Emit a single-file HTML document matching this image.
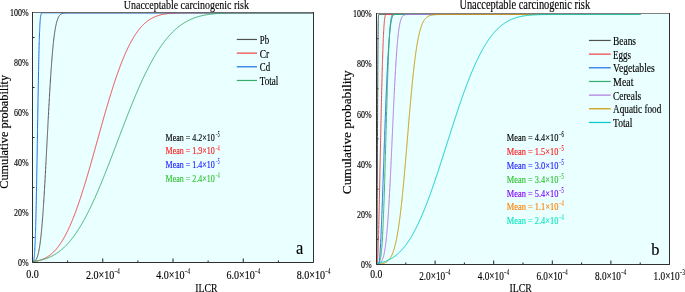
<!DOCTYPE html>
<html><head><meta charset="utf-8"><title>Unacceptable carcinogenic risk</title>
<style>html,body{margin:0;padding:0;background:#fff;width:685px;height:292px;overflow:hidden}svg{display:block;will-change:transform}</style>
</head><body>
<svg width="685" height="292" viewBox="0 0 685 292" font-family="&quot;Liberation Serif&quot;, serif"><rect x="32.50" y="12.50" width="281.00" height="250.00" fill="#EAFFFF"/><path d="M32.50,262.50 V258.50 M67.62,262.50 V260.50 M102.75,262.50 V258.50 M137.88,262.50 V260.50 M173.00,262.50 V258.50 M208.12,262.50 V260.50 M243.25,262.50 V258.50 M278.38,262.50 V260.50 M313.50,262.50 V258.50 M32.50,237.50 H34.50 M32.50,187.50 H34.50 M32.50,137.50 H34.50 M32.50,87.50 H34.50 M32.50,37.50 H34.50" stroke="#222" stroke-width="1" fill="none"/><path d="M32.50,262.50 L32.82,262.11 L33.38,261.93 L33.87,261.71 L34.33,261.45 L34.75,261.13 L35.13,260.78 L35.49,260.39 L35.80,259.97 L36.08,259.54 L36.36,259.06 L36.61,258.58 L36.86,258.04 L37.07,257.53 L37.28,256.98 L37.49,256.38 L37.66,255.83 L37.84,255.25 L38.02,254.62 L38.19,253.96 L38.33,253.39 L38.47,252.79 L38.61,252.17 L38.75,251.51 L38.89,250.82 L39.03,250.09 L39.17,249.33 L39.32,248.54 L39.42,247.92 L39.53,247.28 L39.63,246.61 L39.74,245.93 L39.84,245.22 L39.95,244.49 L40.05,243.74 L40.16,242.97 L40.26,242.17 L40.37,241.35 L40.47,240.50 L40.58,239.63 L40.69,238.74 L40.79,237.82 L40.90,236.87 L40.97,236.23 L41.04,235.57 L41.11,234.91 L41.18,234.23 L41.25,233.54 L41.32,232.84 L41.39,232.13 L41.46,231.40 L41.53,230.67 L41.60,229.92 L41.67,229.16 L41.74,228.39 L41.81,227.61 L41.88,226.81 L41.95,226.01 L42.02,225.19 L42.09,224.36 L42.16,223.52 L42.23,222.66 L42.30,221.80 L42.37,220.92 L42.44,220.04 L42.51,219.14 L42.58,218.22 L42.65,217.30 L42.72,216.37 L42.79,215.42 L42.86,214.46 L42.93,213.50 L43.00,212.52 L43.07,211.53 L43.14,210.52 L43.21,209.51 L43.28,208.49 L43.35,207.45 L43.43,206.40 L43.50,205.35 L43.57,204.28 L43.64,203.20 L43.71,202.12 L43.78,201.02 L43.85,199.91 L43.92,198.79 L43.99,197.66 L44.06,196.53 L44.13,195.38 L44.20,194.22 L44.27,193.06 L44.34,191.88 L44.41,190.70 L44.48,189.51 L44.55,188.30 L44.62,187.09 L44.69,185.88 L44.76,184.65 L44.83,183.42 L44.90,182.18 L44.97,180.93 L45.04,179.67 L45.11,178.41 L45.18,177.14 L45.25,175.86 L45.32,174.58 L45.39,173.29 L45.46,172.00 L45.53,170.70 L45.60,169.39 L45.67,168.08 L45.74,166.76 L45.81,165.44 L45.88,164.12 L45.95,162.79 L45.99,162.12 L46.02,161.45 L46.06,160.78 L46.10,160.11 L46.13,159.44 L46.17,158.77 L46.20,158.10 L46.24,157.43 L46.27,156.75 L46.31,156.08 L46.34,155.40 L46.38,154.73 L46.41,154.05 L46.45,153.38 L46.48,152.70 L46.52,152.02 L46.55,151.34 L46.59,150.66 L46.62,149.98 L46.66,149.30 L46.69,148.62 L46.73,147.94 L46.76,147.26 L46.80,146.58 L46.83,145.90 L46.87,145.22 L46.90,144.53 L46.94,143.85 L46.97,143.17 L47.01,142.49 L47.04,141.80 L47.08,141.12 L47.11,140.44 L47.15,139.76 L47.18,139.07 L47.22,138.39 L47.25,137.71 L47.29,137.03 L47.32,136.34 L47.36,135.66 L47.39,134.98 L47.43,134.30 L47.47,133.62 L47.50,132.94 L47.54,132.26 L47.57,131.58 L47.61,130.90 L47.64,130.22 L47.68,129.54 L47.71,128.86 L47.75,128.19 L47.78,127.51 L47.82,126.83 L47.85,126.16 L47.89,125.48 L47.92,124.81 L47.96,124.14 L47.99,123.47 L48.03,122.79 L48.06,122.12 L48.10,121.45 L48.13,120.78 L48.17,120.12 L48.20,119.45 L48.24,118.78 L48.27,118.12 L48.34,116.79 L48.41,115.47 L48.48,114.15 L48.55,112.84 L48.62,111.53 L48.69,110.22 L48.76,108.93 L48.84,107.64 L48.91,106.35 L48.98,105.07 L49.05,103.80 L49.12,102.53 L49.19,101.27 L49.26,100.02 L49.33,98.77 L49.40,97.53 L49.47,96.30 L49.54,95.08 L49.61,93.86 L49.68,92.66 L49.75,91.46 L49.82,90.26 L49.89,89.08 L49.96,87.91 L50.03,86.74 L50.10,85.59 L50.17,84.44 L50.24,83.30 L50.31,82.17 L50.38,81.05 L50.45,79.94 L50.52,78.84 L50.59,77.75 L50.66,76.67 L50.73,75.60 L50.80,74.54 L50.87,73.49 L50.94,72.45 L51.01,71.42 L51.08,70.40 L51.15,69.39 L51.22,68.39 L51.29,67.40 L51.36,66.42 L51.43,65.45 L51.51,64.50 L51.58,63.55 L51.65,62.62 L51.72,61.69 L51.79,60.78 L51.86,59.88 L51.93,58.99 L52.00,58.11 L52.07,57.24 L52.14,56.38 L52.21,55.53 L52.28,54.70 L52.35,53.87 L52.42,53.06 L52.49,52.26 L52.56,51.46 L52.63,50.68 L52.70,49.91 L52.77,49.15 L52.84,48.40 L52.91,47.66 L52.98,46.94 L53.05,46.22 L53.12,45.52 L53.19,44.82 L53.26,44.14 L53.33,43.46 L53.40,42.80 L53.47,42.15 L53.54,41.51 L53.61,40.87 L53.72,39.94 L53.82,39.04 L53.93,38.16 L54.03,37.30 L54.14,36.46 L54.25,35.64 L54.35,34.85 L54.46,34.07 L54.56,33.32 L54.67,32.59 L54.77,31.88 L54.88,31.19 L54.98,30.51 L55.09,29.86 L55.19,29.23 L55.30,28.62 L55.40,28.02 L55.54,27.25 L55.69,26.52 L55.83,25.82 L55.97,25.14 L56.11,24.50 L56.25,23.88 L56.39,23.29 L56.53,22.72 L56.70,22.05 L56.88,21.42 L57.06,20.83 L57.23,20.27 L57.41,19.74 L57.62,19.15 L57.83,18.61 L58.04,18.10 L58.28,17.56 L58.53,17.07 L58.81,16.57 L59.09,16.11 L59.41,15.66 L59.73,15.27 L60.08,14.89 L60.46,14.53 L60.88,14.21 L61.34,13.92 L61.83,13.67 L62.36,13.47 L62.92,13.30 L63.52,13.17 L64.15,13.07 L64.78,13.00 L65.45,12.95 L66.12,12.91 L66.82,12.89 L67.52,12.88 L68.23,12.87 L68.93,12.86 L69.63,12.86 L70.33,12.85 L71.04,12.85 L71.74,12.85 L72.44,12.85 L73.14,12.85 L73.85,12.85 L74.55,12.85 L75.25,12.85 L75.96,12.85 L76.66,12.85 L77.36,12.85 L78.06,12.85 L78.77,12.85 L79.47,12.85 L80.17,12.85 L80.87,12.85 L81.58,12.85 L82.28,12.85 L82.98,12.85 L83.68,12.85 L84.39,12.85 L85.09,12.85 L85.79,12.85 L86.49,12.85 L87.20,12.85 L87.90,12.85 L88.60,12.85 L89.30,12.85 L90.01,12.85 L90.71,12.85 L91.41,12.85 L92.11,12.85 L92.82,12.85 L93.52,12.85 L94.22,12.85 L94.92,12.85 L95.63,12.85 L96.33,12.85 L97.03,12.85 L97.74,12.85 L98.44,12.85 L99.14,12.85 L99.84,12.85 L100.55,12.85 L101.25,12.85 L101.95,12.85 L102.65,12.85 L103.36,12.85 L104.06,12.85 L104.76,12.85 L105.46,12.85 L106.17,12.85 L106.87,12.85 L107.57,12.85 L108.27,12.85 L108.98,12.85 L109.68,12.85 L110.38,12.85 L111.08,12.85 L111.79,12.85 L112.49,12.85 L113.19,12.85 L113.89,12.85 L114.60,12.85 L115.30,12.85 L116.00,12.85 L116.71,12.85 L117.41,12.85 L118.11,12.85 L118.81,12.85 L119.52,12.85 L120.22,12.85 L120.92,12.85 L121.62,12.85 L122.33,12.85 L123.03,12.85 L123.73,12.85 L124.43,12.85 L125.14,12.85 L125.84,12.85 L126.54,12.85 L127.24,12.85 L127.95,12.85 L128.65,12.85 L129.35,12.85 L130.05,12.85 L130.76,12.85 L131.46,12.85 L132.16,12.85 L132.86,12.85 L133.57,12.85 L134.27,12.85 L134.97,12.85 L135.68,12.85 L136.38,12.85 L137.08,12.85 L137.78,12.85 L138.49,12.85 L139.19,12.85 L139.89,12.85 L140.59,12.85 L141.30,12.85 L142.00,12.85 L142.70,12.85 L143.40,12.85 L144.11,12.85 L144.81,12.85 L145.51,12.85 L146.21,12.85 L146.92,12.85 L147.62,12.85 L148.32,12.85 L149.02,12.85 L149.73,12.85 L150.43,12.85 L151.13,12.85 L151.83,12.85 L152.54,12.85 L153.24,12.85 L153.94,12.85 L154.64,12.85 L155.35,12.85 L156.05,12.85 L156.75,12.85 L157.46,12.85 L158.16,12.85 L158.86,12.85 L159.56,12.85 L160.27,12.85 L160.97,12.85 L161.67,12.85 L162.37,12.85 L163.08,12.85 L163.78,12.85 L164.48,12.85 L165.18,12.85 L165.89,12.85 L166.59,12.85 L167.29,12.85 L167.99,12.85 L168.70,12.85 L169.40,12.85 L170.10,12.85 L170.80,12.85 L171.51,12.85 L172.21,12.85 L172.91,12.85 L173.61,12.85 L174.32,12.85 L175.02,12.85 L175.72,12.85 L176.43,12.85 L177.13,12.85 L177.83,12.85 L178.53,12.85 L179.24,12.85 L179.94,12.85 L180.64,12.85 L181.34,12.85 L182.05,12.85 L182.75,12.85 L183.45,12.85 L184.15,12.85 L184.86,12.85 L185.56,12.85 L186.26,12.85 L186.96,12.85 L187.67,12.85 L188.37,12.85 L189.07,12.85 L189.77,12.85 L190.48,12.85 L191.18,12.85 L191.88,12.85 L192.58,12.85 L193.29,12.85 L193.99,12.85 L194.69,12.85 L195.39,12.85 L196.10,12.85 L196.80,12.85 L197.50,12.85 L198.21,12.85 L198.91,12.85 L199.61,12.85 L200.31,12.85 L201.02,12.85 L201.72,12.85 L202.42,12.85 L203.12,12.85 L203.83,12.85 L204.53,12.85 L205.23,12.85 L205.93,12.85 L206.64,12.85 L207.34,12.85 L208.04,12.85 L208.74,12.85 L209.45,12.85 L210.15,12.85 L210.85,12.85 L211.55,12.85 L212.26,12.85 L212.96,12.85 L213.66,12.85 L214.36,12.85 L215.07,12.85 L215.77,12.85 L216.47,12.85 L217.18,12.85 L217.88,12.85 L218.58,12.85 L219.28,12.85 L219.99,12.85 L220.69,12.85 L221.39,12.85 L222.09,12.85 L222.80,12.85 L223.50,12.85 L224.20,12.85 L224.90,12.85 L225.61,12.85 L226.31,12.85 L227.01,12.85 L227.71,12.85 L228.42,12.85 L229.12,12.85 L229.82,12.85 L230.52,12.85 L231.23,12.85 L231.93,12.85 L232.63,12.85 L233.33,12.85 L234.04,12.85 L234.74,12.85 L235.44,12.85 L236.15,12.85 L236.85,12.85 L237.55,12.85 L238.25,12.85 L238.96,12.85 L239.66,12.85 L240.36,12.85 L241.06,12.85 L241.77,12.85 L242.47,12.85 L243.17,12.85 L243.87,12.85 L244.58,12.85 L245.28,12.85 L245.98,12.85 L246.68,12.85 L247.39,12.85 L248.09,12.85 L248.79,12.85 L249.49,12.85 L250.20,12.85 L250.90,12.85 L251.60,12.85 L252.30,12.85 L253.01,12.85 L253.71,12.85 L254.41,12.85 L255.11,12.85 L255.82,12.85 L256.52,12.85 L257.22,12.85 L257.93,12.85 L258.63,12.85 L259.33,12.85 L260.03,12.85 L260.74,12.85 L261.44,12.85 L262.14,12.85 L262.84,12.85 L263.55,12.85 L264.25,12.85 L264.95,12.85 L265.65,12.85 L266.36,12.85 L267.06,12.85 L267.76,12.85 L268.46,12.85 L269.17,12.85 L269.87,12.85 L270.57,12.85 L271.27,12.85 L271.98,12.85 L272.68,12.85 L273.38,12.85 L274.08,12.85 L274.79,12.85 L275.49,12.85 L276.19,12.85 L276.90,12.85 L277.60,12.85 L278.30,12.85 L279.00,12.85 L279.71,12.85 L280.41,12.85 L281.11,12.85 L281.81,12.85 L282.52,12.85 L283.22,12.85 L283.92,12.85 L284.62,12.85 L285.33,12.85 L286.03,12.85 L286.73,12.85 L287.43,12.85 L288.14,12.85 L288.84,12.85 L289.54,12.85 L290.24,12.85 L290.95,12.85 L291.65,12.85 L292.35,12.85 L293.05,12.85 L293.76,12.85 L294.46,12.85 L295.16,12.85 L295.87,12.85 L296.57,12.85 L297.27,12.85 L297.97,12.85 L298.68,12.85 L299.38,12.85 L300.08,12.85 L300.78,12.85 L301.49,12.85 L302.19,12.85 L302.89,12.85 L303.59,12.85 L304.30,12.85 L305.00,12.85 L305.70,12.85 L306.40,12.85 L307.11,12.85 L307.81,12.85 L308.51,12.85 L309.21,12.85 L309.92,12.85 L310.62,12.85 L311.32,12.85 L312.02,12.85 L312.73,12.85 L313.43,12.85 L313.50,12.85" stroke="#515151" stroke-width="1" fill="none"/><path d="M32.50,262.50 L32.50,261.77 L33.13,261.69 L33.76,261.60 L34.40,261.51 L35.03,261.40 L35.63,261.29 L36.22,261.18 L36.82,261.05 L37.42,260.92 L38.02,260.78 L38.58,260.63 L39.14,260.48 L39.70,260.32 L40.26,260.14 L40.83,259.96 L41.35,259.78 L41.88,259.58 L42.41,259.38 L42.93,259.17 L43.43,258.96 L43.92,258.74 L44.41,258.51 L44.90,258.27 L45.39,258.02 L45.85,257.77 L46.31,257.52 L46.76,257.26 L47.22,256.98 L47.68,256.70 L48.13,256.40 L48.55,256.12 L48.98,255.83 L49.40,255.53 L49.82,255.21 L50.24,254.89 L50.66,254.56 L51.05,254.25 L51.43,253.92 L51.82,253.59 L52.21,253.25 L52.59,252.90 L52.98,252.54 L53.37,252.17 L53.75,251.79 L54.10,251.44 L54.46,251.07 L54.81,250.70 L55.16,250.32 L55.51,249.94 L55.86,249.54 L56.21,249.13 L56.56,248.72 L56.91,248.30 L57.23,247.91 L57.55,247.52 L57.86,247.11 L58.18,246.70 L58.50,246.29 L58.81,245.86 L59.13,245.43 L59.44,244.99 L59.76,244.54 L60.08,244.08 L60.39,243.62 L60.71,243.15 L60.99,242.72 L61.27,242.29 L61.55,241.86 L61.83,241.41 L62.11,240.96 L62.40,240.51 L62.68,240.04 L62.96,239.57 L63.24,239.10 L63.52,238.62 L63.80,238.13 L64.08,237.63 L64.36,237.13 L64.64,236.63 L64.92,236.11 L65.17,235.66 L65.42,235.20 L65.66,234.73 L65.91,234.26 L66.15,233.79 L66.40,233.31 L66.65,232.82 L66.89,232.33 L67.14,231.84 L67.38,231.34 L67.63,230.84 L67.88,230.33 L68.12,229.81 L68.37,229.29 L68.61,228.77 L68.86,228.24 L69.10,227.71 L69.35,227.17 L69.60,226.62 L69.84,226.08 L70.09,225.52 L70.33,224.96 L70.58,224.40 L70.83,223.83 L71.04,223.34 L71.25,222.85 L71.46,222.35 L71.67,221.85 L71.88,221.34 L72.09,220.83 L72.30,220.32 L72.51,219.81 L72.72,219.29 L72.93,218.76 L73.14,218.24 L73.36,217.71 L73.57,217.18 L73.78,216.64 L73.99,216.10 L74.20,215.56 L74.41,215.01 L74.62,214.46 L74.83,213.91 L75.04,213.35 L75.25,212.79 L75.46,212.23 L75.67,211.66 L75.88,211.09 L76.10,210.52 L76.31,209.94 L76.52,209.36 L76.73,208.78 L76.94,208.19 L77.15,207.60 L77.36,207.01 L77.57,206.41 L77.78,205.82 L77.99,205.21 L78.20,204.61 L78.41,204.00 L78.62,203.39 L78.84,202.78 L79.05,202.16 L79.26,201.54 L79.47,200.92 L79.68,200.29 L79.89,199.66 L80.07,199.14 L80.24,198.61 L80.42,198.08 L80.59,197.55 L80.77,197.01 L80.94,196.48 L81.12,195.94 L81.29,195.40 L81.47,194.86 L81.65,194.32 L81.82,193.77 L82.00,193.22 L82.17,192.68 L82.35,192.13 L82.52,191.57 L82.70,191.02 L82.88,190.46 L83.05,189.91 L83.23,189.35 L83.40,188.79 L83.58,188.22 L83.75,187.66 L83.93,187.09 L84.11,186.53 L84.28,185.96 L84.46,185.39 L84.63,184.82 L84.81,184.24 L84.98,183.67 L85.16,183.09 L85.33,182.51 L85.51,181.93 L85.69,181.35 L85.86,180.77 L86.04,180.18 L86.21,179.60 L86.39,179.01 L86.56,178.42 L86.74,177.83 L86.92,177.24 L87.09,176.65 L87.27,176.06 L87.44,175.46 L87.62,174.87 L87.79,174.27 L87.97,173.67 L88.14,173.07 L88.32,172.47 L88.50,171.87 L88.67,171.27 L88.85,170.66 L89.02,170.06 L89.20,169.45 L89.37,168.85 L89.55,168.24 L89.73,167.63 L89.90,167.02 L90.08,166.41 L90.25,165.80 L90.43,165.18 L90.60,164.57 L90.78,163.96 L90.96,163.34 L91.13,162.72 L91.31,162.11 L91.48,161.49 L91.66,160.87 L91.83,160.25 L92.01,159.63 L92.18,159.01 L92.36,158.39 L92.54,157.77 L92.71,157.15 L92.89,156.52 L93.06,155.90 L93.24,155.28 L93.41,154.65 L93.59,154.03 L93.77,153.40 L93.94,152.77 L94.12,152.15 L94.29,151.52 L94.47,150.89 L94.64,150.26 L94.82,149.64 L95.00,149.01 L95.17,148.38 L95.35,147.75 L95.52,147.12 L95.70,146.49 L95.87,145.86 L96.05,145.23 L96.22,144.60 L96.40,143.97 L96.58,143.34 L96.75,142.71 L96.93,142.08 L97.10,141.45 L97.28,140.82 L97.45,140.19 L97.63,139.56 L97.81,138.93 L97.98,138.30 L98.16,137.67 L98.33,137.03 L98.51,136.40 L98.68,135.77 L98.86,135.14 L99.04,134.52 L99.21,133.89 L99.39,133.26 L99.56,132.63 L99.74,132.00 L99.91,131.37 L100.09,130.74 L100.26,130.11 L100.44,129.49 L100.62,128.86 L100.79,128.23 L100.97,127.61 L101.14,126.98 L101.32,126.36 L101.49,125.73 L101.67,125.11 L101.85,124.48 L102.02,123.86 L102.20,123.24 L102.37,122.62 L102.55,122.00 L102.72,121.38 L102.90,120.76 L103.07,120.14 L103.25,119.52 L103.43,118.90 L103.60,118.28 L103.78,117.67 L103.95,117.05 L104.13,116.44 L104.30,115.83 L104.48,115.21 L104.66,114.60 L104.83,113.99 L105.01,113.38 L105.18,112.77 L105.36,112.16 L105.53,111.56 L105.71,110.95 L105.89,110.34 L106.06,109.74 L106.24,109.14 L106.41,108.54 L106.59,107.94 L106.76,107.34 L106.94,106.74 L107.11,106.14 L107.29,105.54 L107.47,104.95 L107.64,104.36 L107.82,103.76 L107.99,103.17 L108.17,102.58 L108.34,101.99 L108.52,101.41 L108.70,100.82 L108.87,100.24 L109.05,99.65 L109.22,99.07 L109.40,98.49 L109.57,97.91 L109.75,97.33 L109.93,96.76 L110.10,96.18 L110.28,95.61 L110.45,95.04 L110.63,94.47 L110.80,93.90 L110.98,93.33 L111.15,92.77 L111.33,92.20 L111.51,91.64 L111.68,91.08 L111.86,90.52 L112.03,89.96 L112.21,89.41 L112.38,88.85 L112.56,88.30 L112.74,87.75 L112.91,87.20 L113.09,86.66 L113.26,86.11 L113.44,85.57 L113.61,85.02 L113.79,84.48 L113.97,83.95 L114.14,83.41 L114.32,82.88 L114.49,82.34 L114.67,81.81 L114.84,81.28 L115.02,80.76 L115.19,80.23 L115.41,79.60 L115.62,78.98 L115.83,78.36 L116.04,77.74 L116.25,77.12 L116.46,76.51 L116.67,75.90 L116.88,75.29 L117.09,74.68 L117.30,74.08 L117.51,73.48 L117.72,72.89 L117.93,72.29 L118.15,71.70 L118.36,71.12 L118.57,70.53 L118.78,69.95 L118.99,69.38 L119.20,68.80 L119.41,68.23 L119.62,67.66 L119.83,67.10 L120.04,66.53 L120.25,65.97 L120.46,65.42 L120.67,64.87 L120.89,64.32 L121.10,63.77 L121.31,63.23 L121.52,62.69 L121.73,62.15 L121.94,61.62 L122.15,61.09 L122.36,60.56 L122.57,60.04 L122.78,59.52 L122.99,59.00 L123.20,58.49 L123.41,57.98 L123.63,57.47 L123.84,56.97 L124.05,56.47 L124.26,55.97 L124.47,55.47 L124.68,54.98 L124.93,54.42 L125.17,53.85 L125.42,53.30 L125.66,52.74 L125.91,52.19 L126.15,51.65 L126.40,51.11 L126.65,50.57 L126.89,50.04 L127.14,49.52 L127.38,48.99 L127.63,48.48 L127.88,47.96 L128.12,47.46 L128.37,46.95 L128.61,46.46 L128.86,45.96 L129.11,45.47 L129.35,44.99 L129.60,44.51 L129.84,44.03 L130.09,43.56 L130.34,43.10 L130.58,42.63 L130.83,42.18 L131.11,41.66 L131.39,41.15 L131.67,40.65 L131.95,40.15 L132.23,39.65 L132.51,39.17 L132.79,38.69 L133.08,38.21 L133.36,37.74 L133.64,37.28 L133.92,36.82 L134.20,36.37 L134.48,35.92 L134.76,35.48 L135.04,35.05 L135.32,34.62 L135.60,34.20 L135.92,33.73 L136.24,33.27 L136.55,32.81 L136.87,32.36 L137.19,31.92 L137.50,31.49 L137.82,31.06 L138.13,30.64 L138.45,30.23 L138.77,29.82 L139.08,29.43 L139.40,29.03 L139.71,28.65 L140.07,28.23 L140.42,27.81 L140.77,27.41 L141.12,27.01 L141.47,26.62 L141.82,26.24 L142.17,25.87 L142.53,25.50 L142.88,25.14 L143.23,24.79 L143.61,24.41 L144.00,24.04 L144.39,23.68 L144.77,23.33 L145.16,22.99 L145.55,22.65 L145.93,22.33 L146.32,22.01 L146.74,21.67 L147.16,21.34 L147.58,21.02 L148.01,20.71 L148.43,20.41 L148.85,20.12 L149.27,19.84 L149.73,19.54 L150.18,19.25 L150.64,18.97 L151.10,18.70 L151.55,18.44 L152.01,18.19 L152.50,17.93 L152.99,17.68 L153.49,17.44 L153.98,17.21 L154.47,16.99 L154.96,16.78 L155.49,16.56 L156.01,16.35 L156.54,16.15 L157.07,15.96 L157.60,15.78 L158.12,15.60 L158.68,15.43 L159.25,15.26 L159.81,15.10 L160.37,14.95 L160.93,14.81 L161.53,14.67 L162.13,14.54 L162.72,14.41 L163.32,14.29 L163.92,14.18 L164.52,14.08 L165.15,13.98 L165.78,13.88 L166.41,13.79 L167.05,13.71 L167.68,13.63 L168.31,13.56 L168.98,13.49 L169.65,13.43 L170.31,13.37 L170.98,13.32 L171.65,13.27 L172.31,13.23 L172.98,13.19 L173.65,13.15 L174.32,13.12 L175.02,13.09 L175.72,13.06 L176.43,13.03 L177.13,13.01 L177.83,12.99 L178.53,12.97 L179.24,12.95 L179.94,12.94 L180.64,12.93 L181.34,12.92 L182.05,12.91 L182.75,12.90 L183.45,12.89 L184.15,12.89 L184.86,12.88 L185.56,12.87 L186.26,12.87 L186.96,12.87 L187.67,12.86 L188.37,12.86 L189.07,12.86 L189.77,12.86 L190.48,12.86 L191.18,12.86 L191.88,12.85 L192.58,12.85 L193.29,12.85 L193.99,12.85 L194.69,12.85 L195.39,12.85 L196.10,12.85 L196.80,12.85 L197.50,12.85 L198.21,12.85 L198.91,12.85 L199.61,12.85 L200.31,12.85 L201.02,12.85 L201.72,12.85 L202.42,12.85 L203.12,12.85 L203.83,12.85 L204.53,12.85 L205.23,12.85 L205.93,12.85 L206.64,12.85 L207.34,12.85 L208.04,12.85 L208.74,12.85 L209.45,12.85 L210.15,12.85 L210.85,12.85 L211.55,12.85 L212.26,12.85 L212.96,12.85 L213.66,12.85 L214.36,12.85 L215.07,12.85 L215.77,12.85 L216.47,12.85 L217.18,12.85 L217.88,12.85 L218.58,12.85 L219.28,12.85 L219.99,12.85 L220.69,12.85 L221.39,12.85 L222.09,12.85 L222.80,12.85 L223.50,12.85 L224.20,12.85 L224.90,12.85 L225.61,12.85 L226.31,12.85 L227.01,12.85 L227.71,12.85 L228.42,12.85 L229.12,12.85 L229.82,12.85 L230.52,12.85 L231.23,12.85 L231.93,12.85 L232.63,12.85 L233.33,12.85 L234.04,12.85 L234.74,12.85 L235.44,12.85 L236.15,12.85 L236.85,12.85 L237.55,12.85 L238.25,12.85 L238.96,12.85 L239.66,12.85 L240.36,12.85 L241.06,12.85 L241.77,12.85 L242.47,12.85 L243.17,12.85 L243.87,12.85 L244.58,12.85 L245.28,12.85 L245.98,12.85 L246.68,12.85 L247.39,12.85 L248.09,12.85 L248.79,12.85 L249.49,12.85 L250.20,12.85 L250.90,12.85 L251.60,12.85 L252.30,12.85 L253.01,12.85 L253.71,12.85 L254.41,12.85 L255.11,12.85 L255.82,12.85 L256.52,12.85 L257.22,12.85 L257.93,12.85 L258.63,12.85 L259.33,12.85 L260.03,12.85 L260.74,12.85 L261.44,12.85 L262.14,12.85 L262.84,12.85 L263.55,12.85 L264.25,12.85 L264.95,12.85 L265.65,12.85 L266.36,12.85 L267.06,12.85 L267.76,12.85 L268.46,12.85 L269.17,12.85 L269.87,12.85 L270.57,12.85 L271.27,12.85 L271.98,12.85 L272.68,12.85 L273.38,12.85 L274.08,12.85 L274.79,12.85 L275.49,12.85 L276.19,12.85 L276.90,12.85 L277.60,12.85 L278.30,12.85 L279.00,12.85 L279.71,12.85 L280.41,12.85 L281.11,12.85 L281.81,12.85 L282.52,12.85 L283.22,12.85 L283.92,12.85 L284.62,12.85 L285.33,12.85 L286.03,12.85 L286.73,12.85 L287.43,12.85 L288.14,12.85 L288.84,12.85 L289.54,12.85 L290.24,12.85 L290.95,12.85 L291.65,12.85 L292.35,12.85 L293.05,12.85 L293.76,12.85 L294.46,12.85 L295.16,12.85 L295.87,12.85 L296.57,12.85 L297.27,12.85 L297.97,12.85 L298.68,12.85 L299.38,12.85 L300.08,12.85 L300.78,12.85 L301.49,12.85 L302.19,12.85 L302.89,12.85 L303.59,12.85 L304.30,12.85 L305.00,12.85 L305.70,12.85 L306.40,12.85 L307.11,12.85 L307.81,12.85 L308.51,12.85 L309.21,12.85 L309.92,12.85 L310.62,12.85 L311.32,12.85 L312.02,12.85 L312.73,12.85 L313.43,12.85 L313.50,12.85" stroke="#F14040" stroke-width="1" fill="none"/><path d="M32.50,262.50 L33.06,262.36 L33.38,261.91 L33.59,261.32 L33.73,260.75 L33.87,260.02 L33.98,259.35 L34.08,258.57 L34.19,257.66 L34.26,256.98 L34.33,256.23 L34.40,255.42 L34.47,254.54 L34.54,253.59 L34.61,252.57 L34.68,251.47 L34.75,250.29 L34.82,249.02 L34.89,247.68 L34.92,246.97 L34.96,246.24 L34.99,245.49 L35.03,244.72 L35.06,243.92 L35.10,243.10 L35.13,242.26 L35.17,241.39 L35.20,240.50 L35.24,239.59 L35.28,238.65 L35.31,237.69 L35.35,236.70 L35.38,235.69 L35.42,234.65 L35.45,233.59 L35.49,232.50 L35.52,231.39 L35.56,230.25 L35.59,229.09 L35.63,227.89 L35.66,226.68 L35.70,225.44 L35.73,224.17 L35.77,222.88 L35.80,221.56 L35.84,220.21 L35.87,218.84 L35.91,217.44 L35.94,216.02 L35.98,214.57 L36.01,213.10 L36.05,211.60 L36.08,210.07 L36.12,208.52 L36.15,206.95 L36.19,205.35 L36.22,203.72 L36.26,202.08 L36.29,200.40 L36.33,198.71 L36.36,196.99 L36.40,195.25 L36.43,193.48 L36.47,191.69 L36.50,189.88 L36.54,188.05 L36.58,186.20 L36.61,184.33 L36.65,182.44 L36.68,180.52 L36.72,178.59 L36.75,176.64 L36.79,174.68 L36.82,172.69 L36.86,170.69 L36.89,168.68 L36.93,166.64 L36.96,164.60 L37.00,162.54 L37.03,160.46 L37.07,158.38 L37.10,156.28 L37.14,154.17 L37.17,152.05 L37.21,149.93 L37.24,147.79 L37.28,145.65 L37.31,143.50 L37.35,141.35 L37.38,139.19 L37.42,137.02 L37.45,134.86 L37.49,132.69 L37.52,130.52 L37.56,128.35 L37.59,126.18 L37.63,124.01 L37.66,121.85 L37.70,119.69 L37.73,117.53 L37.77,115.38 L37.80,113.24 L37.84,111.11 L37.87,108.98 L37.91,106.86 L37.95,104.76 L37.98,102.66 L38.02,100.58 L38.05,98.51 L38.09,96.46 L38.12,94.42 L38.16,92.39 L38.19,90.39 L38.23,88.40 L38.26,86.43 L38.30,84.48 L38.33,82.55 L38.37,80.65 L38.40,78.76 L38.44,76.90 L38.47,75.06 L38.51,73.24 L38.54,71.45 L38.58,69.69 L38.61,67.95 L38.65,66.24 L38.68,64.55 L38.72,62.90 L38.75,61.27 L38.79,59.67 L38.82,58.10 L38.86,56.55 L38.89,55.04 L38.93,53.56 L38.96,52.11 L39.00,50.69 L39.03,49.30 L39.07,47.94 L39.10,46.62 L39.14,45.32 L39.17,44.06 L39.21,42.83 L39.24,41.62 L39.28,40.46 L39.32,39.32 L39.35,38.21 L39.39,37.14 L39.42,36.09 L39.46,35.08 L39.49,34.09 L39.53,33.14 L39.56,32.22 L39.60,31.33 L39.63,30.46 L39.67,29.63 L39.70,28.82 L39.74,28.04 L39.77,27.29 L39.81,26.57 L39.84,25.88 L39.88,25.21 L39.95,23.95 L40.02,22.78 L40.09,21.72 L40.16,20.74 L40.23,19.85 L40.30,19.04 L40.37,18.31 L40.44,17.64 L40.54,16.77 L40.65,16.04 L40.76,15.42 L40.90,14.75 L41.07,14.13 L41.28,13.62 L41.60,13.18 L42.06,12.94 L42.69,12.86 L43.39,12.85 L44.09,12.85 L44.80,12.85 L45.50,12.85 L46.20,12.85 L46.90,12.85 L47.61,12.85 L48.31,12.85 L49.01,12.85 L49.71,12.85 L50.42,12.85 L51.12,12.85 L51.82,12.85 L52.52,12.85 L53.23,12.85 L53.93,12.85 L54.63,12.85 L55.33,12.85 L56.04,12.85 L56.74,12.85 L57.44,12.85 L58.14,12.85 L58.85,12.85 L59.55,12.85 L60.25,12.85 L60.95,12.85 L61.66,12.85 L62.36,12.85 L63.06,12.85 L63.77,12.85 L64.47,12.85 L65.17,12.85 L65.87,12.85 L66.58,12.85 L67.28,12.85 L67.98,12.85 L68.68,12.85 L69.39,12.85 L70.09,12.85 L70.79,12.85 L71.49,12.85 L72.20,12.85 L72.90,12.85 L73.60,12.85 L74.30,12.85 L75.01,12.85 L75.71,12.85 L76.41,12.85 L77.11,12.85 L77.82,12.85 L78.52,12.85 L79.22,12.85 L79.92,12.85 L80.63,12.85 L81.33,12.85 L82.03,12.85 L82.74,12.85 L83.44,12.85 L84.14,12.85 L84.84,12.85 L85.55,12.85 L86.25,12.85 L86.95,12.85 L87.65,12.85 L88.36,12.85 L89.06,12.85 L89.76,12.85 L90.46,12.85 L91.17,12.85 L91.87,12.85 L92.57,12.85 L93.27,12.85 L93.98,12.85 L94.68,12.85 L95.38,12.85 L96.08,12.85 L96.79,12.85 L97.49,12.85 L98.19,12.85 L98.89,12.85 L99.60,12.85 L100.30,12.85 L101.00,12.85 L101.70,12.85 L102.41,12.85 L103.11,12.85 L103.81,12.85 L104.52,12.85 L105.22,12.85 L105.92,12.85 L106.62,12.85 L107.33,12.85 L108.03,12.85 L108.73,12.85 L109.43,12.85 L110.14,12.85 L110.84,12.85 L111.54,12.85 L112.24,12.85 L112.95,12.85 L113.65,12.85 L114.35,12.85 L115.05,12.85 L115.76,12.85 L116.46,12.85 L117.16,12.85 L117.86,12.85 L118.57,12.85 L119.27,12.85 L119.97,12.85 L120.67,12.85 L121.38,12.85 L122.08,12.85 L122.78,12.85 L123.49,12.85 L124.19,12.85 L124.89,12.85 L125.59,12.85 L126.30,12.85 L127.00,12.85 L127.70,12.85 L128.40,12.85 L129.11,12.85 L129.81,12.85 L130.51,12.85 L131.21,12.85 L131.92,12.85 L132.62,12.85 L133.32,12.85 L134.02,12.85 L134.73,12.85 L135.43,12.85 L136.13,12.85 L136.83,12.85 L137.54,12.85 L138.24,12.85 L138.94,12.85 L139.64,12.85 L140.35,12.85 L141.05,12.85 L141.75,12.85 L142.45,12.85 L143.16,12.85 L143.86,12.85 L144.56,12.85 L145.27,12.85 L145.97,12.85 L146.67,12.85 L147.37,12.85 L148.08,12.85 L148.78,12.85 L149.48,12.85 L150.18,12.85 L150.89,12.85 L151.59,12.85 L152.29,12.85 L152.99,12.85 L153.70,12.85 L154.40,12.85 L155.10,12.85 L155.80,12.85 L156.51,12.85 L157.21,12.85 L157.91,12.85 L158.61,12.85 L159.32,12.85 L160.02,12.85 L160.72,12.85 L161.42,12.85 L162.13,12.85 L162.83,12.85 L163.53,12.85 L164.24,12.85 L164.94,12.85 L165.64,12.85 L166.34,12.85 L167.05,12.85 L167.75,12.85 L168.45,12.85 L169.15,12.85 L169.86,12.85 L170.56,12.85 L171.26,12.85 L171.96,12.85 L172.67,12.85 L173.37,12.85 L174.07,12.85 L174.77,12.85 L175.48,12.85 L176.18,12.85 L176.88,12.85 L177.58,12.85 L178.29,12.85 L178.99,12.85 L179.69,12.85 L180.39,12.85 L181.10,12.85 L181.80,12.85 L182.50,12.85 L183.21,12.85 L183.91,12.85 L184.61,12.85 L185.31,12.85 L186.02,12.85 L186.72,12.85 L187.42,12.85 L188.12,12.85 L188.83,12.85 L189.53,12.85 L190.23,12.85 L190.93,12.85 L191.64,12.85 L192.34,12.85 L193.04,12.85 L193.74,12.85 L194.45,12.85 L195.15,12.85 L195.85,12.85 L196.55,12.85 L197.26,12.85 L197.96,12.85 L198.66,12.85 L199.36,12.85 L200.07,12.85 L200.77,12.85 L201.47,12.85 L202.17,12.85 L202.88,12.85 L203.58,12.85 L204.28,12.85 L204.99,12.85 L205.69,12.85 L206.39,12.85 L207.09,12.85 L207.80,12.85 L208.50,12.85 L209.20,12.85 L209.90,12.85 L210.61,12.85 L211.31,12.85 L212.01,12.85 L212.71,12.85 L213.42,12.85 L214.12,12.85 L214.82,12.85 L215.52,12.85 L216.23,12.85 L216.93,12.85 L217.63,12.85 L218.33,12.85 L219.04,12.85 L219.74,12.85 L220.44,12.85 L221.14,12.85 L221.85,12.85 L222.55,12.85 L223.25,12.85 L223.96,12.85 L224.66,12.85 L225.36,12.85 L226.06,12.85 L226.77,12.85 L227.47,12.85 L228.17,12.85 L228.87,12.85 L229.58,12.85 L230.28,12.85 L230.98,12.85 L231.68,12.85 L232.39,12.85 L233.09,12.85 L233.79,12.85 L234.49,12.85 L235.20,12.85 L235.90,12.85 L236.60,12.85 L237.30,12.85 L238.01,12.85 L238.71,12.85 L239.41,12.85 L240.11,12.85 L240.82,12.85 L241.52,12.85 L242.22,12.85 L242.93,12.85 L243.63,12.85 L244.33,12.85 L245.03,12.85 L245.74,12.85 L246.44,12.85 L247.14,12.85 L247.84,12.85 L248.55,12.85 L249.25,12.85 L249.95,12.85 L250.65,12.85 L251.36,12.85 L252.06,12.85 L252.76,12.85 L253.46,12.85 L254.17,12.85 L254.87,12.85 L255.57,12.85 L256.27,12.85 L256.98,12.85 L257.68,12.85 L258.38,12.85 L259.08,12.85 L259.79,12.85 L260.49,12.85 L261.19,12.85 L261.89,12.85 L262.60,12.85 L263.30,12.85 L264.00,12.85 L264.71,12.85 L265.41,12.85 L266.11,12.85 L266.81,12.85 L267.52,12.85 L268.22,12.85 L268.92,12.85 L269.62,12.85 L270.33,12.85 L271.03,12.85 L271.73,12.85 L272.43,12.85 L273.14,12.85 L273.84,12.85 L274.54,12.85 L275.24,12.85 L275.95,12.85 L276.65,12.85 L277.35,12.85 L278.05,12.85 L278.76,12.85 L279.46,12.85 L280.16,12.85 L280.86,12.85 L281.57,12.85 L282.27,12.85 L282.97,12.85 L283.68,12.85 L284.38,12.85 L285.08,12.85 L285.78,12.85 L286.49,12.85 L287.19,12.85 L287.89,12.85 L288.59,12.85 L289.30,12.85 L290.00,12.85 L290.70,12.85 L291.40,12.85 L292.11,12.85 L292.81,12.85 L293.51,12.85 L294.21,12.85 L294.92,12.85 L295.62,12.85 L296.32,12.85 L297.02,12.85 L297.73,12.85 L298.43,12.85 L299.13,12.85 L299.83,12.85 L300.54,12.85 L301.24,12.85 L301.94,12.85 L302.65,12.85 L303.35,12.85 L304.05,12.85 L304.75,12.85 L305.46,12.85 L306.16,12.85 L306.86,12.85 L307.56,12.85 L308.27,12.85 L308.97,12.85 L309.67,12.85 L310.37,12.85 L311.08,12.85 L311.78,12.85 L312.48,12.85 L313.18,12.85 L313.50,12.85" stroke="#1A6FDF" stroke-width="1" fill="none"/><path d="M32.50,262.50 L32.50,261.55 L33.13,261.47 L33.76,261.39 L34.40,261.31 L35.03,261.22 L35.66,261.13 L36.29,261.03 L36.93,260.92 L37.52,260.81 L38.12,260.70 L38.72,260.59 L39.32,260.46 L39.91,260.33 L40.51,260.20 L41.11,260.06 L41.67,259.92 L42.23,259.77 L42.79,259.62 L43.35,259.46 L43.92,259.29 L44.48,259.12 L45.04,258.94 L45.57,258.77 L46.10,258.58 L46.62,258.40 L47.15,258.20 L47.68,258.00 L48.20,257.79 L48.73,257.57 L49.22,257.37 L49.71,257.15 L50.21,256.93 L50.70,256.70 L51.19,256.46 L51.68,256.22 L52.17,255.97 L52.66,255.71 L53.12,255.47 L53.58,255.22 L54.03,254.96 L54.49,254.69 L54.95,254.42 L55.40,254.14 L55.86,253.85 L56.32,253.56 L56.77,253.26 L57.20,252.98 L57.62,252.69 L58.04,252.39 L58.46,252.09 L58.88,251.78 L59.30,251.46 L59.73,251.14 L60.15,250.81 L60.57,250.47 L60.95,250.16 L61.34,249.84 L61.73,249.52 L62.11,249.18 L62.50,248.85 L62.89,248.50 L63.27,248.16 L63.66,247.80 L64.05,247.44 L64.43,247.07 L64.82,246.70 L65.21,246.32 L65.56,245.97 L65.91,245.62 L66.26,245.26 L66.61,244.89 L66.96,244.52 L67.31,244.14 L67.66,243.76 L68.02,243.38 L68.37,242.98 L68.72,242.59 L69.07,242.19 L69.42,241.78 L69.77,241.36 L70.12,240.95 L70.47,240.52 L70.79,240.14 L71.11,239.75 L71.42,239.35 L71.74,238.95 L72.06,238.55 L72.37,238.14 L72.69,237.73 L73.00,237.31 L73.32,236.89 L73.64,236.46 L73.95,236.03 L74.27,235.60 L74.59,235.16 L74.90,234.71 L75.22,234.27 L75.53,233.81 L75.85,233.36 L76.17,232.89 L76.48,232.43 L76.80,231.96 L77.08,231.53 L77.36,231.11 L77.64,230.68 L77.92,230.25 L78.20,229.81 L78.48,229.37 L78.77,228.93 L79.05,228.48 L79.33,228.03 L79.61,227.58 L79.89,227.12 L80.17,226.66 L80.45,226.19 L80.73,225.73 L81.01,225.25 L81.29,224.78 L81.58,224.30 L81.86,223.82 L82.14,223.33 L82.42,222.85 L82.70,222.35 L82.98,221.86 L83.26,221.36 L83.54,220.86 L83.82,220.35 L84.11,219.84 L84.39,219.33 L84.67,218.81 L84.91,218.36 L85.16,217.90 L85.40,217.44 L85.65,216.98 L85.90,216.52 L86.14,216.05 L86.39,215.58 L86.63,215.11 L86.88,214.63 L87.13,214.16 L87.37,213.68 L87.62,213.20 L87.86,212.71 L88.11,212.22 L88.36,211.74 L88.60,211.24 L88.85,210.75 L89.09,210.25 L89.34,209.76 L89.59,209.25 L89.83,208.75 L90.08,208.24 L90.32,207.74 L90.57,207.23 L90.81,206.71 L91.06,206.20 L91.31,205.68 L91.55,205.16 L91.80,204.64 L92.04,204.12 L92.29,203.59 L92.54,203.06 L92.78,202.53 L93.03,202.00 L93.27,201.46 L93.52,200.92 L93.77,200.39 L94.01,199.84 L94.26,199.30 L94.50,198.76 L94.75,198.21 L95.00,197.66 L95.24,197.11 L95.49,196.55 L95.73,196.00 L95.98,195.44 L96.22,194.88 L96.47,194.32 L96.72,193.75 L96.96,193.19 L97.21,192.62 L97.45,192.05 L97.67,191.56 L97.88,191.07 L98.09,190.58 L98.30,190.09 L98.51,189.59 L98.72,189.10 L98.93,188.60 L99.14,188.10 L99.35,187.60 L99.56,187.10 L99.77,186.60 L99.98,186.09 L100.19,185.59 L100.41,185.08 L100.62,184.58 L100.83,184.07 L101.04,183.56 L101.25,183.05 L101.46,182.54 L101.67,182.02 L101.88,181.51 L102.09,180.99 L102.30,180.48 L102.51,179.96 L102.72,179.44 L102.93,178.92 L103.15,178.40 L103.36,177.88 L103.57,177.36 L103.78,176.84 L103.99,176.31 L104.20,175.79 L104.41,175.26 L104.62,174.73 L104.83,174.20 L105.04,173.68 L105.25,173.15 L105.46,172.61 L105.67,172.08 L105.89,171.55 L106.10,171.02 L106.31,170.48 L106.52,169.95 L106.73,169.41 L106.94,168.88 L107.15,168.34 L107.36,167.80 L107.57,167.26 L107.78,166.72 L107.99,166.18 L108.20,165.64 L108.41,165.10 L108.63,164.56 L108.84,164.02 L109.05,163.48 L109.26,162.93 L109.47,162.39 L109.68,161.84 L109.89,161.30 L110.10,160.75 L110.31,160.20 L110.52,159.66 L110.73,159.11 L110.94,158.56 L111.15,158.01 L111.37,157.46 L111.58,156.91 L111.79,156.36 L112.00,155.81 L112.21,155.26 L112.42,154.71 L112.63,154.16 L112.84,153.61 L113.05,153.06 L113.26,152.51 L113.47,151.95 L113.68,151.40 L113.89,150.85 L114.11,150.29 L114.32,149.74 L114.53,149.19 L114.74,148.63 L114.95,148.08 L115.16,147.52 L115.37,146.97 L115.58,146.41 L115.79,145.86 L116.00,145.31 L116.21,144.75 L116.42,144.20 L116.63,143.64 L116.85,143.08 L117.06,142.53 L117.27,141.97 L117.48,141.42 L117.69,140.86 L117.90,140.31 L118.11,139.75 L118.32,139.20 L118.53,138.64 L118.74,138.09 L118.95,137.53 L119.16,136.98 L119.37,136.43 L119.59,135.87 L119.80,135.32 L120.01,134.76 L120.22,134.21 L120.43,133.66 L120.64,133.10 L120.85,132.55 L121.06,132.00 L121.27,131.44 L121.48,130.89 L121.69,130.34 L121.90,129.79 L122.12,129.24 L122.33,128.69 L122.54,128.14 L122.75,127.59 L122.96,127.04 L123.17,126.49 L123.38,125.94 L123.59,125.39 L123.80,124.84 L124.01,124.30 L124.22,123.75 L124.43,123.20 L124.64,122.66 L124.86,122.11 L125.07,121.57 L125.28,121.02 L125.49,120.48 L125.70,119.94 L125.91,119.39 L126.12,118.85 L126.33,118.31 L126.54,117.77 L126.75,117.23 L126.96,116.69 L127.17,116.15 L127.38,115.61 L127.60,115.08 L127.81,114.54 L128.02,114.01 L128.23,113.47 L128.44,112.94 L128.65,112.40 L128.86,111.87 L129.07,111.34 L129.28,110.81 L129.49,110.28 L129.70,109.75 L129.91,109.22 L130.12,108.69 L130.34,108.17 L130.55,107.64 L130.76,107.12 L130.97,106.59 L131.18,106.07 L131.39,105.55 L131.60,105.03 L131.81,104.51 L132.02,103.99 L132.23,103.47 L132.44,102.95 L132.65,102.44 L132.86,101.92 L133.08,101.41 L133.29,100.90 L133.50,100.38 L133.71,99.87 L133.92,99.36 L134.13,98.86 L134.34,98.35 L134.55,97.84 L134.76,97.34 L134.97,96.83 L135.18,96.33 L135.39,95.83 L135.60,95.33 L135.82,94.83 L136.03,94.33 L136.24,93.84 L136.45,93.34 L136.66,92.85 L136.87,92.35 L137.08,91.86 L137.29,91.37 L137.54,90.80 L137.78,90.23 L138.03,89.67 L138.27,89.10 L138.52,88.54 L138.77,87.98 L139.01,87.42 L139.26,86.86 L139.50,86.30 L139.75,85.75 L140.00,85.20 L140.24,84.65 L140.49,84.10 L140.73,83.55 L140.98,83.01 L141.23,82.47 L141.47,81.93 L141.72,81.39 L141.96,80.85 L142.21,80.32 L142.45,79.79 L142.70,79.26 L142.95,78.73 L143.19,78.20 L143.44,77.68 L143.68,77.16 L143.93,76.64 L144.18,76.12 L144.42,75.60 L144.67,75.09 L144.91,74.58 L145.16,74.07 L145.41,73.56 L145.65,73.06 L145.90,72.56 L146.14,72.06 L146.39,71.56 L146.64,71.06 L146.88,70.57 L147.13,70.08 L147.37,69.59 L147.62,69.10 L147.86,68.62 L148.11,68.13 L148.36,67.65 L148.60,67.18 L148.85,66.70 L149.09,66.23 L149.34,65.76 L149.59,65.29 L149.83,64.82 L150.08,64.36 L150.32,63.90 L150.57,63.44 L150.82,62.98 L151.06,62.53 L151.34,62.01 L151.62,61.50 L151.90,60.99 L152.19,60.48 L152.47,59.98 L152.75,59.48 L153.03,58.98 L153.31,58.48 L153.59,57.99 L153.87,57.50 L154.15,57.02 L154.43,56.54 L154.72,56.06 L155.00,55.58 L155.28,55.11 L155.56,54.64 L155.84,54.17 L156.12,53.71 L156.40,53.25 L156.68,52.79 L156.96,52.34 L157.24,51.89 L157.53,51.44 L157.81,51.00 L158.09,50.56 L158.37,50.12 L158.65,49.69 L158.93,49.26 L159.21,48.83 L159.49,48.41 L159.77,47.98 L160.09,47.51 L160.41,47.05 L160.72,46.59 L161.04,46.13 L161.35,45.67 L161.67,45.22 L161.99,44.78 L162.30,44.33 L162.62,43.90 L162.94,43.46 L163.25,43.03 L163.57,42.61 L163.88,42.18 L164.20,41.77 L164.52,41.35 L164.83,40.94 L165.15,40.54 L165.46,40.13 L165.78,39.74 L166.10,39.34 L166.41,38.95 L166.73,38.57 L167.08,38.14 L167.43,37.72 L167.78,37.31 L168.13,36.89 L168.49,36.49 L168.84,36.09 L169.19,35.69 L169.54,35.30 L169.89,34.91 L170.24,34.53 L170.59,34.15 L170.94,33.78 L171.30,33.41 L171.65,33.05 L172.00,32.69 L172.35,32.33 L172.70,31.98 L173.09,31.60 L173.47,31.23 L173.86,30.86 L174.25,30.50 L174.63,30.14 L175.02,29.78 L175.41,29.44 L175.79,29.09 L176.18,28.75 L176.57,28.42 L176.95,28.09 L177.34,27.77 L177.72,27.45 L178.15,27.11 L178.57,26.78 L178.99,26.45 L179.41,26.12 L179.83,25.81 L180.25,25.49 L180.68,25.19 L181.10,24.89 L181.52,24.59 L181.94,24.30 L182.36,24.02 L182.78,23.74 L183.24,23.44 L183.70,23.15 L184.15,22.86 L184.61,22.59 L185.07,22.31 L185.52,22.05 L185.98,21.78 L186.44,21.53 L186.89,21.28 L187.35,21.03 L187.84,20.78 L188.33,20.53 L188.83,20.28 L189.32,20.04 L189.81,19.81 L190.30,19.58 L190.79,19.36 L191.28,19.15 L191.78,18.94 L192.30,18.72 L192.83,18.50 L193.36,18.30 L193.88,18.10 L194.41,17.90 L194.94,17.71 L195.47,17.53 L195.99,17.35 L196.55,17.17 L197.12,16.99 L197.68,16.82 L198.24,16.65 L198.80,16.49 L199.36,16.33 L199.93,16.18 L200.49,16.04 L201.05,15.90 L201.65,15.76 L202.25,15.62 L202.84,15.49 L203.44,15.36 L204.04,15.24 L204.63,15.12 L205.23,15.01 L205.83,14.90 L206.43,14.79 L207.06,14.69 L207.69,14.59 L208.32,14.49 L208.95,14.40 L209.59,14.31 L210.22,14.23 L210.85,14.15 L211.48,14.08 L212.12,14.00 L212.75,13.94 L213.42,13.87 L214.08,13.80 L214.75,13.74 L215.42,13.68 L216.09,13.63 L216.75,13.58 L217.42,13.53 L218.09,13.48 L218.76,13.44 L219.42,13.40 L220.09,13.36 L220.76,13.32 L221.43,13.29 L222.13,13.25 L222.83,13.22 L223.53,13.19 L224.24,13.17 L224.94,13.14 L225.64,13.12 L226.34,13.09 L227.05,13.07 L227.75,13.05 L228.45,13.04 L229.15,13.02 L229.86,13.01 L230.56,12.99 L231.26,12.98 L231.96,12.97 L232.67,12.96 L233.37,12.95 L234.07,12.94 L234.78,12.93 L235.48,12.92 L236.18,12.91 L236.88,12.91 L237.59,12.90 L238.29,12.90 L238.99,12.89 L239.69,12.89 L240.40,12.88 L241.10,12.88 L241.80,12.88 L242.50,12.87 L243.21,12.87 L243.91,12.87 L244.61,12.87 L245.31,12.86 L246.02,12.86 L246.72,12.86 L247.42,12.86 L248.12,12.86 L248.83,12.86 L249.53,12.86 L250.23,12.86 L250.93,12.85 L251.64,12.85 L252.34,12.85 L253.04,12.85 L253.74,12.85 L254.45,12.85 L255.15,12.85 L255.85,12.85 L256.56,12.85 L257.26,12.85 L257.96,12.85 L258.66,12.85 L259.37,12.85 L260.07,12.85 L260.77,12.85 L261.47,12.85 L262.18,12.85 L262.88,12.85 L263.58,12.85 L264.28,12.85 L264.99,12.85 L265.69,12.85 L266.39,12.85 L267.09,12.85 L267.80,12.85 L268.50,12.85 L269.20,12.85 L269.90,12.85 L270.61,12.85 L271.31,12.85 L272.01,12.85 L272.71,12.85 L273.42,12.85 L274.12,12.85 L274.82,12.85 L275.53,12.85 L276.23,12.85 L276.93,12.85 L277.63,12.85 L278.34,12.85 L279.04,12.85 L279.74,12.85 L280.44,12.85 L281.15,12.85 L281.85,12.85 L282.55,12.85 L283.25,12.85 L283.96,12.85 L284.66,12.85 L285.36,12.85 L286.06,12.85 L286.77,12.85 L287.47,12.85 L288.17,12.85 L288.87,12.85 L289.58,12.85 L290.28,12.85 L290.98,12.85 L291.68,12.85 L292.39,12.85 L293.09,12.85 L293.79,12.85 L294.49,12.85 L295.20,12.85 L295.90,12.85 L296.60,12.85 L297.31,12.85 L298.01,12.85 L298.71,12.85 L299.41,12.85 L300.12,12.85 L300.82,12.85 L301.52,12.85 L302.22,12.85 L302.93,12.85 L303.63,12.85 L304.33,12.85 L305.03,12.85 L305.74,12.85 L306.44,12.85 L307.14,12.85 L307.84,12.85 L308.55,12.85 L309.25,12.85 L309.95,12.85 L310.65,12.85 L311.36,12.85 L312.06,12.85 L312.76,12.85 L313.46,12.85 L313.50,12.85" stroke="#37AD6B" stroke-width="1" fill="none"/><path d="M32.00,12.50 H314.00" stroke="#6a6a6a" stroke-width="1" fill="none"/><path d="M32.50,12.00 V262.50 H313.50 V12.00" stroke="#303030" stroke-width="1" fill="none"/><rect x="376.50" y="13.50" width="293.00" height="251.00" fill="#EAFFFF"/><path d="M376.50,264.50 V260.50 M405.80,264.50 V262.50 M435.10,264.50 V260.50 M464.40,264.50 V262.50 M493.70,264.50 V260.50 M523.00,264.50 V262.50 M552.30,264.50 V260.50 M581.60,264.50 V262.50 M610.90,264.50 V260.50 M640.20,264.50 V262.50 M669.50,264.50 V260.50 M376.50,239.40 H378.50 M376.50,189.20 H378.50 M376.50,139.00 H378.50 M376.50,88.80 H378.50 M376.50,38.60 H378.50" stroke="#222" stroke-width="1" fill="none"/><path d="M376.50,264.50 L376.63,263.86 L376.70,262.53 L376.73,261.47 L376.76,260.11 L376.80,258.41 L376.83,256.36 L376.86,253.92 L376.90,251.08 L376.93,247.83 L376.96,244.14 L376.99,240.02 L377.03,235.46 L377.06,230.47 L377.09,225.06 L377.13,219.23 L377.16,213.01 L377.19,206.42 L377.23,199.49 L377.26,192.26 L377.29,184.75 L377.32,177.01 L377.36,169.08 L377.39,161.02 L377.42,152.86 L377.46,144.66 L377.49,136.47 L377.52,128.34 L377.55,120.31 L377.59,112.43 L377.62,104.75 L377.65,97.30 L377.69,90.12 L377.72,83.24 L377.75,76.70 L377.79,70.50 L377.82,64.67 L377.85,59.22 L377.88,54.16 L377.92,49.49 L377.95,45.20 L377.98,41.29 L378.02,37.75 L378.05,34.56 L378.08,31.71 L378.12,29.18 L378.15,26.95 L378.18,24.99 L378.21,23.29 L378.25,21.82 L378.28,20.55 L378.31,19.47 L378.35,18.56 L378.38,17.79 L378.45,16.62 L378.51,15.83 L378.61,15.13 L378.81,14.61 L379.40,14.50 L380.13,14.50 L380.85,14.50 L381.58,14.50 L382.30,14.50 L383.03,14.50 L383.75,14.50 L384.48,14.50 L385.20,14.50 L385.93,14.50 L386.65,14.50 L387.38,14.50 L388.10,14.50 L388.83,14.50 L389.55,14.50 L390.28,14.50 L391.01,14.50 L391.73,14.50 L392.46,14.50 L393.18,14.50 L393.91,14.50 L394.63,14.50 L395.36,14.50 L396.08,14.50 L396.81,14.50 L397.53,14.50 L398.26,14.50 L398.98,14.50 L399.71,14.50 L400.43,14.50 L401.16,14.50 L401.88,14.50 L402.61,14.50 L403.33,14.50 L404.06,14.50 L404.79,14.50 L405.51,14.50 L406.24,14.50 L406.96,14.50 L407.69,14.50 L408.41,14.50 L409.14,14.50 L409.86,14.50 L410.59,14.50 L411.31,14.50 L412.04,14.50 L412.76,14.50 L413.49,14.50 L414.21,14.50 L414.94,14.50 L415.66,14.50 L416.39,14.50 L417.11,14.50 L417.84,14.50 L418.57,14.50 L419.29,14.50 L420.02,14.50 L420.74,14.50 L421.47,14.50 L422.19,14.50 L422.92,14.50 L423.64,14.50 L424.37,14.50 L425.09,14.50 L425.82,14.50 L426.54,14.50 L427.27,14.50 L427.99,14.50 L428.72,14.50 L429.44,14.50 L430.17,14.50 L430.89,14.50 L431.62,14.50 L432.35,14.50 L433.07,14.50 L433.80,14.50 L434.52,14.50 L435.25,14.50 L435.97,14.50 L436.70,14.50 L437.42,14.50 L438.15,14.50 L438.87,14.50 L439.60,14.50 L440.32,14.50 L441.05,14.50 L441.77,14.50 L442.50,14.50 L443.22,14.50 L443.95,14.50 L444.67,14.50 L445.40,14.50 L446.13,14.50 L446.85,14.50 L447.58,14.50 L448.30,14.50 L449.03,14.50 L449.75,14.50 L450.48,14.50 L451.20,14.50 L451.93,14.50 L452.65,14.50 L453.38,14.50 L454.10,14.50 L454.83,14.50 L455.55,14.50 L456.28,14.50 L457.00,14.50 L457.73,14.50 L458.46,14.50 L459.18,14.50 L459.91,14.50 L460.63,14.50 L461.36,14.50 L462.08,14.50 L462.81,14.50 L463.53,14.50 L464.26,14.50 L464.98,14.50 L465.71,14.50 L466.43,14.50 L467.16,14.50 L467.88,14.50 L468.61,14.50 L469.33,14.50 L470.06,14.50 L470.78,14.50 L471.51,14.50 L472.24,14.50 L472.96,14.50 L473.69,14.50 L474.41,14.50 L475.14,14.50 L475.86,14.50 L476.59,14.50 L477.31,14.50 L478.04,14.50 L478.76,14.50 L479.49,14.50 L480.21,14.50 L480.94,14.50 L481.66,14.50 L482.39,14.50 L483.11,14.50 L483.84,14.50 L484.56,14.50 L485.29,14.50 L486.02,14.50 L486.74,14.50 L487.47,14.50 L488.19,14.50 L488.92,14.50 L489.64,14.50 L490.37,14.50 L491.09,14.50 L491.82,14.50 L492.54,14.50 L493.27,14.50 L493.99,14.50 L494.72,14.50 L495.44,14.50 L496.17,14.50 L496.89,14.50 L497.62,14.50 L498.34,14.50 L499.07,14.50 L499.80,14.50 L500.52,14.50 L501.25,14.50 L501.97,14.50 L502.70,14.50 L503.42,14.50 L504.15,14.50 L504.87,14.50 L505.60,14.50 L506.32,14.50 L507.05,14.50 L507.77,14.50 L508.50,14.50 L509.22,14.50 L509.95,14.50 L510.67,14.50 L511.40,14.50 L512.12,14.50 L512.85,14.50 L513.58,14.50 L514.30,14.50 L515.03,14.50 L515.75,14.50 L516.48,14.50 L517.20,14.50 L517.93,14.50 L518.65,14.50 L519.38,14.50 L520.10,14.50 L520.83,14.50 L521.55,14.50 L522.28,14.50 L523.00,14.50 L523.73,14.50 L524.45,14.50 L525.18,14.50 L525.90,14.50 L526.63,14.50 L527.36,14.50 L528.08,14.50 L528.81,14.50 L529.53,14.50 L530.26,14.50 L530.98,14.50 L531.71,14.50 L532.43,14.50 L533.16,14.50 L533.88,14.50 L534.61,14.50 L535.33,14.50 L536.06,14.50 L536.78,14.50 L537.51,14.50 L538.23,14.50 L538.96,14.50 L539.68,14.50 L540.41,14.50 L541.14,14.50 L541.86,14.50 L542.59,14.50 L543.31,14.50 L544.04,14.50 L544.76,14.50 L545.49,14.50 L546.21,14.50 L546.94,14.50 L547.66,14.50 L548.39,14.50 L549.11,14.50 L549.84,14.50 L550.56,14.50 L551.29,14.50 L552.01,14.50 L552.74,14.50 L553.46,14.50 L554.19,14.50 L554.92,14.50 L555.64,14.50 L556.37,14.50 L557.09,14.50 L557.82,14.50 L558.54,14.50 L559.27,14.50 L559.99,14.50 L560.72,14.50 L561.44,14.50 L562.17,14.50 L562.89,14.50 L563.62,14.50 L564.34,14.50 L565.07,14.50 L565.79,14.50 L566.52,14.50 L567.24,14.50 L567.97,14.50 L568.70,14.50 L569.42,14.50 L570.15,14.50 L570.87,14.50 L571.60,14.50 L572.32,14.50 L573.05,14.50 L573.77,14.50 L574.50,14.50 L575.22,14.50 L575.95,14.50 L576.67,14.50 L577.40,14.50 L578.12,14.50 L578.85,14.50 L579.57,14.50 L580.30,14.50 L581.02,14.50 L581.75,14.50 L582.48,14.50 L583.20,14.50 L583.93,14.50 L584.65,14.50 L585.38,14.50 L586.10,14.50 L586.83,14.50 L587.55,14.50 L588.28,14.50 L589.00,14.50 L589.73,14.50 L590.45,14.50 L591.18,14.50 L591.90,14.50 L592.63,14.50 L593.35,14.50 L594.08,14.50 L594.80,14.50 L595.53,14.50 L596.26,14.50 L596.98,14.50 L597.71,14.50 L598.43,14.50 L599.16,14.50 L599.88,14.50 L600.61,14.50 L601.33,14.50 L602.06,14.50 L602.78,14.50 L603.51,14.50 L604.23,14.50 L604.96,14.50 L605.68,14.50 L606.41,14.50 L607.13,14.50 L607.86,14.50 L608.59,14.50 L609.31,14.50 L610.04,14.50 L610.76,14.50 L611.49,14.50 L612.21,14.50 L612.94,14.50 L613.66,14.50 L614.39,14.50 L615.11,14.50 L615.84,14.50 L616.56,14.50 L617.29,14.50 L618.01,14.50 L618.74,14.50 L619.46,14.50 L620.19,14.50 L620.91,14.50 L621.64,14.50 L622.37,14.50 L623.09,14.50 L623.82,14.50 L624.54,14.50 L625.27,14.50 L625.99,14.50 L626.72,14.50 L627.44,14.50 L628.17,14.50 L628.89,14.50 L629.62,14.50 L630.34,14.50 L631.07,14.50 L631.79,14.50 L632.52,14.50 L633.24,14.50 L633.97,14.50 L634.69,14.50 L635.42,14.50 L636.15,14.50 L636.87,14.50 L637.60,14.50 L638.32,14.50 L639.05,14.50 L639.77,14.50 L640.20,14.50" stroke="#515151" stroke-width="1" fill="none"/><path d="M376.50,264.50 L376.99,264.26 L377.16,263.69 L377.29,262.87 L377.39,262.01 L377.46,261.31 L377.52,260.50 L377.59,259.58 L377.65,258.55 L377.72,257.41 L377.79,256.17 L377.85,254.81 L377.88,254.09 L377.92,253.34 L377.95,252.57 L377.98,251.77 L378.02,250.94 L378.05,250.09 L378.08,249.22 L378.12,248.32 L378.15,247.39 L378.18,246.44 L378.21,245.47 L378.25,244.47 L378.28,243.45 L378.31,242.41 L378.35,241.34 L378.38,240.26 L378.41,239.15 L378.45,238.02 L378.48,236.87 L378.51,235.70 L378.54,234.51 L378.58,233.30 L378.61,232.08 L378.64,230.83 L378.68,229.57 L378.71,228.29 L378.74,227.00 L378.77,225.68 L378.81,224.36 L378.84,223.01 L378.87,221.65 L378.91,220.28 L378.94,218.89 L378.97,217.49 L379.01,216.08 L379.04,214.65 L379.07,213.22 L379.10,211.76 L379.14,210.30 L379.17,208.83 L379.20,207.35 L379.24,205.86 L379.27,204.35 L379.30,202.84 L379.34,201.32 L379.37,199.79 L379.40,198.25 L379.43,196.71 L379.47,195.16 L379.50,193.60 L379.53,192.04 L379.57,190.47 L379.60,188.89 L379.63,187.31 L379.66,185.72 L379.70,184.13 L379.73,182.53 L379.76,180.94 L379.80,179.33 L379.83,177.73 L379.86,176.12 L379.90,174.51 L379.93,172.90 L379.96,171.28 L379.99,169.66 L380.03,168.05 L380.06,166.43 L380.09,164.81 L380.13,163.19 L380.16,161.57 L380.19,159.96 L380.23,158.34 L380.26,156.72 L380.29,155.11 L380.32,153.49 L380.36,151.88 L380.39,150.27 L380.42,148.67 L380.46,147.06 L380.49,145.46 L380.52,143.86 L380.55,142.27 L380.59,140.67 L380.62,139.09 L380.65,137.50 L380.69,135.92 L380.72,134.35 L380.75,132.78 L380.79,131.22 L380.82,129.66 L380.85,128.10 L380.88,126.56 L380.92,125.01 L380.95,123.48 L380.98,121.95 L381.02,120.43 L381.05,118.91 L381.08,117.40 L381.12,115.90 L381.15,114.40 L381.18,112.92 L381.21,111.44 L381.25,109.97 L381.28,108.50 L381.31,107.05 L381.35,105.60 L381.38,104.16 L381.41,102.73 L381.44,101.31 L381.48,99.90 L381.51,98.50 L381.54,97.10 L381.58,95.72 L381.61,94.34 L381.64,92.98 L381.68,91.62 L381.71,90.28 L381.74,88.95 L381.77,87.62 L381.81,86.31 L381.84,85.00 L381.87,83.71 L381.91,82.43 L381.94,81.16 L381.97,79.89 L382.01,78.65 L382.04,77.41 L382.07,76.18 L382.10,74.96 L382.14,73.76 L382.17,72.57 L382.20,71.39 L382.24,70.22 L382.27,69.06 L382.30,67.91 L382.34,66.78 L382.37,65.66 L382.40,64.55 L382.43,63.45 L382.47,62.36 L382.50,61.29 L382.53,60.23 L382.57,59.18 L382.60,58.15 L382.63,57.12 L382.66,56.11 L382.70,55.12 L382.73,54.13 L382.76,53.16 L382.80,52.20 L382.83,51.25 L382.86,50.32 L382.90,49.40 L382.93,48.49 L382.96,47.59 L382.99,46.71 L383.03,45.84 L383.06,44.99 L383.09,44.14 L383.13,43.31 L383.16,42.50 L383.19,41.69 L383.23,40.90 L383.26,40.12 L383.29,39.36 L383.32,38.61 L383.36,37.87 L383.39,37.14 L383.42,36.43 L383.46,35.73 L383.49,35.05 L383.52,34.37 L383.59,33.06 L383.65,31.81 L383.72,30.60 L383.79,29.45 L383.85,28.35 L383.92,27.29 L383.98,26.29 L384.05,25.34 L384.12,24.43 L384.18,23.57 L384.25,22.76 L384.31,22.00 L384.38,21.28 L384.44,20.61 L384.54,19.68 L384.64,18.85 L384.74,18.11 L384.84,17.45 L384.97,16.71 L385.10,16.10 L385.27,15.52 L385.50,14.97 L385.86,14.58 L386.49,14.50 L387.21,14.50 L387.94,14.50 L388.66,14.50 L389.39,14.50 L390.12,14.50 L390.84,14.50 L391.57,14.50 L392.29,14.50 L393.02,14.50 L393.74,14.50 L394.47,14.50 L395.19,14.50 L395.92,14.50 L396.64,14.50 L397.37,14.50 L398.09,14.50 L398.82,14.50 L399.54,14.50 L400.27,14.50 L400.99,14.50 L401.72,14.50 L402.44,14.50 L403.17,14.50 L403.90,14.50 L404.62,14.50 L405.35,14.50 L406.07,14.50 L406.80,14.50 L407.52,14.50 L408.25,14.50 L408.97,14.50 L409.70,14.50 L410.42,14.50 L411.15,14.50 L411.87,14.50 L412.60,14.50 L413.32,14.50 L414.05,14.50 L414.77,14.50 L415.50,14.50 L416.22,14.50 L416.95,14.50 L417.68,14.50 L418.40,14.50 L419.13,14.50 L419.85,14.50 L420.58,14.50 L421.30,14.50 L422.03,14.50 L422.75,14.50 L423.48,14.50 L424.20,14.50 L424.93,14.50 L425.65,14.50 L426.38,14.50 L427.10,14.50 L427.83,14.50 L428.55,14.50 L429.28,14.50 L430.00,14.50 L430.73,14.50 L431.46,14.50 L432.18,14.50 L432.91,14.50 L433.63,14.50 L434.36,14.50 L435.08,14.50 L435.81,14.50 L436.53,14.50 L437.26,14.50 L437.98,14.50 L438.71,14.50 L439.43,14.50 L440.16,14.50 L440.88,14.50 L441.61,14.50 L442.33,14.50 L443.06,14.50 L443.78,14.50 L444.51,14.50 L445.24,14.50 L445.96,14.50 L446.69,14.50 L447.41,14.50 L448.14,14.50 L448.86,14.50 L449.59,14.50 L450.31,14.50 L451.04,14.50 L451.76,14.50 L452.49,14.50 L453.21,14.50 L453.94,14.50 L454.66,14.50 L455.39,14.50 L456.11,14.50 L456.84,14.50 L457.56,14.50 L458.29,14.50 L459.02,14.50 L459.74,14.50 L460.47,14.50 L461.19,14.50 L461.92,14.50 L462.64,14.50 L463.37,14.50 L464.09,14.50 L464.82,14.50 L465.54,14.50 L466.27,14.50 L466.99,14.50 L467.72,14.50 L468.44,14.50 L469.17,14.50 L469.89,14.50 L470.62,14.50 L471.34,14.50 L472.07,14.50 L472.80,14.50 L473.52,14.50 L474.25,14.50 L474.97,14.50 L475.70,14.50 L476.42,14.50 L477.15,14.50 L477.87,14.50 L478.60,14.50 L479.32,14.50 L480.05,14.50 L480.77,14.50 L481.50,14.50 L482.22,14.50 L482.95,14.50 L483.67,14.50 L484.40,14.50 L485.13,14.50 L485.85,14.50 L486.58,14.50 L487.30,14.50 L488.03,14.50 L488.75,14.50 L489.48,14.50 L490.20,14.50 L490.93,14.50 L491.65,14.50 L492.38,14.50 L493.10,14.50 L493.83,14.50 L494.55,14.50 L495.28,14.50 L496.00,14.50 L496.73,14.50 L497.45,14.50 L498.18,14.50 L498.91,14.50 L499.63,14.50 L500.36,14.50 L501.08,14.50 L501.81,14.50 L502.53,14.50 L503.26,14.50 L503.98,14.50 L504.71,14.50 L505.43,14.50 L506.16,14.50 L506.88,14.50 L507.61,14.50 L508.33,14.50 L509.06,14.50 L509.78,14.50 L510.51,14.50 L511.23,14.50 L511.96,14.50 L512.69,14.50 L513.41,14.50 L514.14,14.50 L514.86,14.50 L515.59,14.50 L516.31,14.50 L517.04,14.50 L517.76,14.50 L518.49,14.50 L519.21,14.50 L519.94,14.50 L520.66,14.50 L521.39,14.50 L522.11,14.50 L522.84,14.50 L523.56,14.50 L524.29,14.50 L525.01,14.50 L525.74,14.50 L526.47,14.50 L527.19,14.50 L527.92,14.50 L528.64,14.50 L529.37,14.50 L530.09,14.50 L530.82,14.50 L531.54,14.50 L532.27,14.50 L532.99,14.50 L533.72,14.50 L534.44,14.50 L535.17,14.50 L535.89,14.50 L536.62,14.50 L537.34,14.50 L538.07,14.50 L538.79,14.50 L539.52,14.50 L540.25,14.50 L540.97,14.50 L541.70,14.50 L542.42,14.50 L543.15,14.50 L543.87,14.50 L544.60,14.50 L545.32,14.50 L546.05,14.50 L546.77,14.50 L547.50,14.50 L548.22,14.50 L548.95,14.50 L549.67,14.50 L550.40,14.50 L551.12,14.50 L551.85,14.50 L552.57,14.50 L553.30,14.50 L554.03,14.50 L554.75,14.50 L555.48,14.50 L556.20,14.50 L556.93,14.50 L557.65,14.50 L558.38,14.50 L559.10,14.50 L559.83,14.50 L560.55,14.50 L561.28,14.50 L562.00,14.50 L562.73,14.50 L563.45,14.50 L564.18,14.50 L564.90,14.50 L565.63,14.50 L566.35,14.50 L567.08,14.50 L567.81,14.50 L568.53,14.50 L569.26,14.50 L569.98,14.50 L570.71,14.50 L571.43,14.50 L572.16,14.50 L572.88,14.50 L573.61,14.50 L574.33,14.50 L575.06,14.50 L575.78,14.50 L576.51,14.50 L577.23,14.50 L577.96,14.50 L578.68,14.50 L579.41,14.50 L580.13,14.50 L580.86,14.50 L581.59,14.50 L582.31,14.50 L583.04,14.50 L583.76,14.50 L584.49,14.50 L585.21,14.50 L585.94,14.50 L586.66,14.50 L587.39,14.50 L588.11,14.50 L588.84,14.50 L589.56,14.50 L590.29,14.50 L591.01,14.50 L591.74,14.50 L592.46,14.50 L593.19,14.50 L593.91,14.50 L594.64,14.50 L595.37,14.50 L596.09,14.50 L596.82,14.50 L597.54,14.50 L598.27,14.50 L598.99,14.50 L599.72,14.50 L600.44,14.50 L601.17,14.50 L601.89,14.50 L602.62,14.50 L603.34,14.50 L604.07,14.50 L604.79,14.50 L605.52,14.50 L606.24,14.50 L606.97,14.50 L607.69,14.50 L608.42,14.50 L609.15,14.50 L609.87,14.50 L610.60,14.50 L611.32,14.50 L612.05,14.50 L612.77,14.50 L613.50,14.50 L614.22,14.50 L614.95,14.50 L615.67,14.50 L616.40,14.50 L617.12,14.50 L617.85,14.50 L618.57,14.50 L619.30,14.50 L620.02,14.50 L620.75,14.50 L621.47,14.50 L622.20,14.50 L622.93,14.50 L623.65,14.50 L624.38,14.50 L625.10,14.50 L625.83,14.50 L626.55,14.50 L627.28,14.50 L628.00,14.50 L628.73,14.50 L629.45,14.50 L630.18,14.50 L630.90,14.50 L631.63,14.50 L632.35,14.50 L633.08,14.50 L633.80,14.50 L634.53,14.50 L635.26,14.50 L635.98,14.50 L636.71,14.50 L637.43,14.50 L638.16,14.50 L638.88,14.50 L639.61,14.50 L640.20,14.50" stroke="#F14040" stroke-width="1" fill="none"/><path d="M376.50,264.50 L377.23,264.50 L377.92,264.49 L378.38,264.25 L378.64,263.75 L378.84,263.12 L378.97,262.55 L379.10,261.84 L379.20,261.22 L379.30,260.51 L379.40,259.73 L379.50,258.86 L379.60,257.90 L379.66,257.21 L379.73,256.49 L379.80,255.73 L379.86,254.92 L379.93,254.08 L379.99,253.21 L380.06,252.29 L380.13,251.34 L380.19,250.35 L380.26,249.33 L380.32,248.27 L380.39,247.17 L380.46,246.04 L380.52,244.87 L380.59,243.68 L380.65,242.45 L380.72,241.18 L380.79,239.89 L380.85,238.56 L380.88,237.89 L380.92,237.21 L380.95,236.52 L380.98,235.82 L381.02,235.12 L381.05,234.41 L381.08,233.69 L381.12,232.97 L381.15,232.24 L381.18,231.50 L381.21,230.76 L381.25,230.01 L381.28,229.25 L381.31,228.49 L381.35,227.72 L381.38,226.94 L381.41,226.16 L381.44,225.37 L381.48,224.58 L381.51,223.78 L381.54,222.98 L381.58,222.17 L381.61,221.36 L381.64,220.54 L381.68,219.71 L381.71,218.88 L381.74,218.05 L381.77,217.21 L381.81,216.36 L381.84,215.51 L381.87,214.66 L381.91,213.80 L381.94,212.94 L381.97,212.07 L382.01,211.20 L382.04,210.33 L382.07,209.45 L382.10,208.57 L382.14,207.68 L382.17,206.79 L382.20,205.90 L382.24,205.00 L382.27,204.10 L382.30,203.19 L382.34,202.29 L382.37,201.38 L382.40,200.46 L382.43,199.55 L382.47,198.63 L382.50,197.71 L382.53,196.78 L382.57,195.86 L382.60,194.93 L382.63,193.99 L382.66,193.06 L382.70,192.12 L382.73,191.19 L382.76,190.25 L382.80,189.30 L382.83,188.36 L382.86,187.41 L382.90,186.47 L382.93,185.52 L382.96,184.57 L382.99,183.61 L383.03,182.66 L383.06,181.70 L383.09,180.75 L383.13,179.79 L383.16,178.83 L383.19,177.87 L383.23,176.91 L383.26,175.95 L383.29,174.99 L383.32,174.03 L383.36,173.06 L383.39,172.10 L383.42,171.14 L383.46,170.17 L383.49,169.21 L383.52,168.24 L383.55,167.28 L383.59,166.31 L383.62,165.35 L383.65,164.38 L383.69,163.42 L383.72,162.45 L383.75,161.49 L383.79,160.53 L383.82,159.56 L383.85,158.60 L383.88,157.64 L383.92,156.67 L383.95,155.71 L383.98,154.75 L384.02,153.79 L384.05,152.83 L384.08,151.87 L384.12,150.92 L384.15,149.96 L384.18,149.01 L384.21,148.05 L384.25,147.10 L384.28,146.15 L384.31,145.20 L384.35,144.25 L384.38,143.30 L384.41,142.36 L384.44,141.41 L384.48,140.47 L384.51,139.53 L384.54,138.59 L384.58,137.65 L384.61,136.71 L384.64,135.78 L384.68,134.85 L384.71,133.92 L384.74,132.99 L384.77,132.06 L384.81,131.14 L384.84,130.22 L384.87,129.30 L384.91,128.38 L384.94,127.47 L384.97,126.55 L385.01,125.64 L385.04,124.73 L385.07,123.83 L385.10,122.92 L385.14,122.02 L385.17,121.13 L385.20,120.23 L385.24,119.34 L385.27,118.45 L385.30,117.56 L385.34,116.68 L385.37,115.79 L385.40,114.91 L385.43,114.04 L385.47,113.17 L385.50,112.30 L385.53,111.43 L385.57,110.56 L385.60,109.70 L385.63,108.85 L385.66,107.99 L385.70,107.14 L385.73,106.29 L385.76,105.45 L385.80,104.60 L385.83,103.77 L385.86,102.93 L385.90,102.10 L385.93,101.27 L385.96,100.44 L385.99,99.62 L386.03,98.80 L386.06,97.99 L386.09,97.18 L386.13,96.37 L386.16,95.57 L386.19,94.77 L386.23,93.97 L386.26,93.18 L386.29,92.39 L386.32,91.60 L386.36,90.82 L386.39,90.04 L386.42,89.27 L386.46,88.50 L386.49,87.73 L386.52,86.97 L386.55,86.21 L386.59,85.45 L386.62,84.70 L386.65,83.95 L386.69,83.21 L386.72,82.47 L386.75,81.74 L386.79,81.00 L386.82,80.28 L386.85,79.55 L386.88,78.83 L386.92,78.12 L386.95,77.41 L386.98,76.70 L387.02,76.00 L387.05,75.30 L387.08,74.60 L387.12,73.91 L387.15,73.23 L387.18,72.55 L387.21,71.87 L387.25,71.19 L387.28,70.52 L387.35,69.20 L387.41,67.89 L387.48,66.60 L387.54,65.32 L387.61,64.06 L387.68,62.82 L387.74,61.60 L387.81,60.39 L387.87,59.20 L387.94,58.03 L388.01,56.88 L388.07,55.74 L388.14,54.62 L388.20,53.52 L388.27,52.44 L388.34,51.37 L388.40,50.32 L388.47,49.29 L388.53,48.28 L388.60,47.29 L388.66,46.31 L388.73,45.35 L388.80,44.40 L388.86,43.48 L388.93,42.57 L388.99,41.68 L389.06,40.81 L389.13,39.95 L389.19,39.11 L389.26,38.29 L389.32,37.48 L389.39,36.70 L389.46,35.92 L389.52,35.17 L389.59,34.43 L389.65,33.71 L389.72,33.01 L389.79,32.32 L389.85,31.65 L389.92,30.99 L389.98,30.35 L390.08,29.42 L390.18,28.53 L390.28,27.67 L390.38,26.85 L390.48,26.06 L390.58,25.30 L390.68,24.58 L390.77,23.88 L390.87,23.23 L390.97,22.60 L391.10,21.81 L391.24,21.07 L391.37,20.38 L391.50,19.75 L391.63,19.16 L391.80,18.49 L391.96,17.89 L392.13,17.35 L392.32,16.79 L392.55,16.24 L392.82,15.73 L393.12,15.30 L393.48,14.93 L393.94,14.66 L394.53,14.53 L395.23,14.50 L395.95,14.50 L396.68,14.50 L397.40,14.50 L398.13,14.50 L398.85,14.50 L399.58,14.50 L400.30,14.50 L401.03,14.50 L401.75,14.50 L402.48,14.50 L403.20,14.50 L403.93,14.50 L404.65,14.50 L405.38,14.50 L406.10,14.50 L406.83,14.50 L407.55,14.50 L408.28,14.50 L409.01,14.50 L409.73,14.50 L410.46,14.50 L411.18,14.50 L411.91,14.50 L412.63,14.50 L413.36,14.50 L414.08,14.50 L414.81,14.50 L415.53,14.50 L416.26,14.50 L416.98,14.50 L417.71,14.50 L418.43,14.50 L419.16,14.50 L419.88,14.50 L420.61,14.50 L421.33,14.50 L422.06,14.50 L422.79,14.50 L423.51,14.50 L424.24,14.50 L424.96,14.50 L425.69,14.50 L426.41,14.50 L427.14,14.50 L427.86,14.50 L428.59,14.50 L429.31,14.50 L430.04,14.50 L430.76,14.50 L431.49,14.50 L432.21,14.50 L432.94,14.50 L433.66,14.50 L434.39,14.50 L435.11,14.50 L435.84,14.50 L436.57,14.50 L437.29,14.50 L438.02,14.50 L438.74,14.50 L439.47,14.50 L440.19,14.50 L440.92,14.50 L441.64,14.50 L442.37,14.50 L443.09,14.50 L443.82,14.50 L444.54,14.50 L445.27,14.50 L445.99,14.50 L446.72,14.50 L447.44,14.50 L448.17,14.50 L448.89,14.50 L449.62,14.50 L450.35,14.50 L451.07,14.50 L451.80,14.50 L452.52,14.50 L453.25,14.50 L453.97,14.50 L454.70,14.50 L455.42,14.50 L456.15,14.50 L456.87,14.50 L457.60,14.50 L458.32,14.50 L459.05,14.50 L459.77,14.50 L460.50,14.50 L461.22,14.50 L461.95,14.50 L462.67,14.50 L463.40,14.50 L464.13,14.50 L464.85,14.50 L465.58,14.50 L466.30,14.50 L467.03,14.50 L467.75,14.50 L468.48,14.50 L469.20,14.50 L469.93,14.50 L470.65,14.50 L471.38,14.50 L472.10,14.50 L472.83,14.50 L473.55,14.50 L474.28,14.50 L475.00,14.50 L475.73,14.50 L476.45,14.50 L477.18,14.50 L477.91,14.50 L478.63,14.50 L479.36,14.50 L480.08,14.50 L480.81,14.50 L481.53,14.50 L482.26,14.50 L482.98,14.50 L483.71,14.50 L484.43,14.50 L485.16,14.50 L485.88,14.50 L486.61,14.50 L487.33,14.50 L488.06,14.50 L488.78,14.50 L489.51,14.50 L490.23,14.50 L490.96,14.50 L491.69,14.50 L492.41,14.50 L493.14,14.50 L493.86,14.50 L494.59,14.50 L495.31,14.50 L496.04,14.50 L496.76,14.50 L497.49,14.50 L498.21,14.50 L498.94,14.50 L499.66,14.50 L500.39,14.50 L501.11,14.50 L501.84,14.50 L502.56,14.50 L503.29,14.50 L504.01,14.50 L504.74,14.50 L505.47,14.50 L506.19,14.50 L506.92,14.50 L507.64,14.50 L508.37,14.50 L509.09,14.50 L509.82,14.50 L510.54,14.50 L511.27,14.50 L511.99,14.50 L512.72,14.50 L513.44,14.50 L514.17,14.50 L514.89,14.50 L515.62,14.50 L516.34,14.50 L517.07,14.50 L517.79,14.50 L518.52,14.50 L519.25,14.50 L519.97,14.50 L520.70,14.50 L521.42,14.50 L522.15,14.50 L522.87,14.50 L523.60,14.50 L524.32,14.50 L525.05,14.50 L525.77,14.50 L526.50,14.50 L527.22,14.50 L527.95,14.50 L528.67,14.50 L529.40,14.50 L530.12,14.50 L530.85,14.50 L531.57,14.50 L532.30,14.50 L533.03,14.50 L533.75,14.50 L534.48,14.50 L535.20,14.50 L535.93,14.50 L536.65,14.50 L537.38,14.50 L538.10,14.50 L538.83,14.50 L539.55,14.50 L540.28,14.50 L541.00,14.50 L541.73,14.50 L542.45,14.50 L543.18,14.50 L543.90,14.50 L544.63,14.50 L545.36,14.50 L546.08,14.50 L546.81,14.50 L547.53,14.50 L548.26,14.50 L548.98,14.50 L549.71,14.50 L550.43,14.50 L551.16,14.50 L551.88,14.50 L552.61,14.50 L553.33,14.50 L554.06,14.50 L554.78,14.50 L555.51,14.50 L556.23,14.50 L556.96,14.50 L557.68,14.50 L558.41,14.50 L559.14,14.50 L559.86,14.50 L560.59,14.50 L561.31,14.50 L562.04,14.50 L562.76,14.50 L563.49,14.50 L564.21,14.50 L564.94,14.50 L565.66,14.50 L566.39,14.50 L567.11,14.50 L567.84,14.50 L568.56,14.50 L569.29,14.50 L570.01,14.50 L570.74,14.50 L571.46,14.50 L572.19,14.50 L572.92,14.50 L573.64,14.50 L574.37,14.50 L575.09,14.50 L575.82,14.50 L576.54,14.50 L577.27,14.50 L577.99,14.50 L578.72,14.50 L579.44,14.50 L580.17,14.50 L580.89,14.50 L581.62,14.50 L582.34,14.50 L583.07,14.50 L583.79,14.50 L584.52,14.50 L585.24,14.50 L585.97,14.50 L586.70,14.50 L587.42,14.50 L588.15,14.50 L588.87,14.50 L589.60,14.50 L590.32,14.50 L591.05,14.50 L591.77,14.50 L592.50,14.50 L593.22,14.50 L593.95,14.50 L594.67,14.50 L595.40,14.50 L596.12,14.50 L596.85,14.50 L597.57,14.50 L598.30,14.50 L599.02,14.50 L599.75,14.50 L600.48,14.50 L601.20,14.50 L601.93,14.50 L602.65,14.50 L603.38,14.50 L604.10,14.50 L604.83,14.50 L605.55,14.50 L606.28,14.50 L607.00,14.50 L607.73,14.50 L608.45,14.50 L609.18,14.50 L609.90,14.50 L610.63,14.50 L611.35,14.50 L612.08,14.50 L612.80,14.50 L613.53,14.50 L614.26,14.50 L614.98,14.50 L615.71,14.50 L616.43,14.50 L617.16,14.50 L617.88,14.50 L618.61,14.50 L619.33,14.50 L620.06,14.50 L620.78,14.50 L621.51,14.50 L622.23,14.50 L622.96,14.50 L623.68,14.50 L624.41,14.50 L625.13,14.50 L625.86,14.50 L626.58,14.50 L627.31,14.50 L628.04,14.50 L628.76,14.50 L629.49,14.50 L630.21,14.50 L630.94,14.50 L631.66,14.50 L632.39,14.50 L633.11,14.50 L633.84,14.50 L634.56,14.50 L635.29,14.50 L636.01,14.50 L636.74,14.50 L637.46,14.50 L638.19,14.50 L638.91,14.50 L639.64,14.50 L640.20,14.50" stroke="#1A6FDF" stroke-width="1" fill="none"/><path d="M376.50,264.50 L377.13,264.39 L377.72,264.25 L378.21,264.01 L378.61,263.69 L378.94,263.30 L379.24,262.82 L379.47,262.34 L379.70,261.75 L379.90,261.13 L380.06,260.54 L380.23,259.85 L380.36,259.24 L380.49,258.56 L380.62,257.81 L380.72,257.20 L380.82,256.55 L380.92,255.85 L381.02,255.10 L381.12,254.30 L381.21,253.44 L381.31,252.54 L381.38,251.90 L381.44,251.24 L381.51,250.55 L381.58,249.83 L381.64,249.09 L381.71,248.32 L381.77,247.52 L381.84,246.69 L381.91,245.83 L381.97,244.94 L382.04,244.02 L382.10,243.07 L382.17,242.09 L382.24,241.08 L382.30,240.03 L382.37,238.95 L382.43,237.84 L382.50,236.70 L382.57,235.52 L382.63,234.31 L382.70,233.06 L382.76,231.78 L382.83,230.47 L382.86,229.80 L382.90,229.12 L382.93,228.43 L382.96,227.73 L382.99,227.03 L383.03,226.32 L383.06,225.60 L383.09,224.87 L383.13,224.13 L383.16,223.38 L383.19,222.63 L383.23,221.86 L383.26,221.09 L383.29,220.31 L383.32,219.52 L383.36,218.72 L383.39,217.91 L383.42,217.10 L383.46,216.27 L383.49,215.44 L383.52,214.60 L383.55,213.76 L383.59,212.90 L383.62,212.03 L383.65,211.16 L383.69,210.28 L383.72,209.39 L383.75,208.50 L383.79,207.59 L383.82,206.68 L383.85,205.76 L383.88,204.83 L383.92,203.90 L383.95,202.95 L383.98,202.00 L384.02,201.05 L384.05,200.08 L384.08,199.11 L384.12,198.13 L384.15,197.14 L384.18,196.15 L384.21,195.15 L384.25,194.14 L384.28,193.13 L384.31,192.11 L384.35,191.08 L384.38,190.05 L384.41,189.01 L384.44,187.96 L384.48,186.91 L384.51,185.85 L384.54,184.79 L384.58,183.72 L384.61,182.64 L384.64,181.56 L384.68,180.47 L384.71,179.38 L384.74,178.29 L384.77,177.18 L384.81,176.08 L384.84,174.97 L384.87,173.85 L384.91,172.73 L384.94,171.60 L384.97,170.47 L385.01,169.34 L385.04,168.20 L385.07,167.06 L385.10,165.92 L385.14,164.77 L385.17,163.62 L385.20,162.46 L385.24,161.30 L385.27,160.14 L385.30,158.98 L385.34,157.81 L385.37,156.64 L385.40,155.47 L385.43,154.29 L385.47,153.12 L385.50,151.94 L385.53,150.76 L385.57,149.58 L385.60,148.39 L385.63,147.21 L385.66,146.02 L385.70,144.84 L385.73,143.65 L385.76,142.46 L385.80,141.27 L385.83,140.08 L385.86,138.89 L385.90,137.70 L385.93,136.51 L385.96,135.32 L385.99,134.13 L386.03,132.95 L386.06,131.76 L386.09,130.57 L386.13,129.38 L386.16,128.20 L386.19,127.01 L386.23,125.83 L386.26,124.65 L386.29,123.47 L386.32,122.29 L386.36,121.12 L386.39,119.95 L386.42,118.78 L386.46,117.61 L386.49,116.44 L386.52,115.28 L386.55,114.12 L386.59,112.96 L386.62,111.81 L386.65,110.66 L386.69,109.51 L386.72,108.37 L386.75,107.23 L386.79,106.09 L386.82,104.96 L386.85,103.83 L386.88,102.71 L386.92,101.59 L386.95,100.47 L386.98,99.37 L387.02,98.26 L387.05,97.16 L387.08,96.06 L387.12,94.97 L387.15,93.89 L387.18,92.81 L387.21,91.74 L387.25,90.67 L387.28,89.61 L387.31,88.55 L387.35,87.50 L387.38,86.45 L387.41,85.42 L387.44,84.38 L387.48,83.36 L387.51,82.34 L387.54,81.32 L387.58,80.32 L387.61,79.32 L387.64,78.33 L387.68,77.34 L387.71,76.36 L387.74,75.39 L387.77,74.42 L387.81,73.47 L387.84,72.52 L387.87,71.57 L387.91,70.64 L387.94,69.71 L387.97,68.79 L388.01,67.88 L388.04,66.97 L388.07,66.07 L388.10,65.19 L388.14,64.30 L388.17,63.43 L388.20,62.57 L388.24,61.71 L388.27,60.86 L388.30,60.02 L388.34,59.18 L388.37,58.36 L388.40,57.54 L388.43,56.73 L388.47,55.94 L388.50,55.14 L388.53,54.36 L388.57,53.59 L388.60,52.82 L388.63,52.06 L388.66,51.31 L388.70,50.57 L388.73,49.84 L388.76,49.12 L388.80,48.40 L388.83,47.70 L388.86,47.00 L388.90,46.31 L388.93,45.63 L388.96,44.96 L389.03,43.64 L389.09,42.36 L389.16,41.11 L389.23,39.89 L389.29,38.71 L389.36,37.57 L389.42,36.45 L389.49,35.37 L389.55,34.33 L389.62,33.32 L389.69,32.34 L389.75,31.39 L389.82,30.48 L389.88,29.60 L389.95,28.75 L390.02,27.93 L390.08,27.14 L390.15,26.38 L390.21,25.66 L390.28,24.96 L390.35,24.29 L390.41,23.65 L390.51,22.75 L390.61,21.90 L390.71,21.11 L390.81,20.38 L390.91,19.71 L391.01,19.09 L391.14,18.34 L391.27,17.68 L391.40,17.10 L391.57,16.49 L391.76,15.88 L391.99,15.36 L392.29,14.90 L392.69,14.60 L393.31,14.50 L394.04,14.50 L394.76,14.50 L395.49,14.50 L396.21,14.50 L396.94,14.50 L397.66,14.50 L398.39,14.50 L399.12,14.50 L399.84,14.50 L400.57,14.50 L401.29,14.50 L402.02,14.50 L402.74,14.50 L403.47,14.50 L404.19,14.50 L404.92,14.50 L405.64,14.50 L406.37,14.50 L407.09,14.50 L407.82,14.50 L408.54,14.50 L409.27,14.50 L409.99,14.50 L410.72,14.50 L411.44,14.50 L412.17,14.50 L412.90,14.50 L413.62,14.50 L414.35,14.50 L415.07,14.50 L415.80,14.50 L416.52,14.50 L417.25,14.50 L417.97,14.50 L418.70,14.50 L419.42,14.50 L420.15,14.50 L420.87,14.50 L421.60,14.50 L422.32,14.50 L423.05,14.50 L423.77,14.50 L424.50,14.50 L425.22,14.50 L425.95,14.50 L426.68,14.50 L427.40,14.50 L428.13,14.50 L428.85,14.50 L429.58,14.50 L430.30,14.50 L431.03,14.50 L431.75,14.50 L432.48,14.50 L433.20,14.50 L433.93,14.50 L434.65,14.50 L435.38,14.50 L436.10,14.50 L436.83,14.50 L437.55,14.50 L438.28,14.50 L439.00,14.50 L439.73,14.50 L440.46,14.50 L441.18,14.50 L441.91,14.50 L442.63,14.50 L443.36,14.50 L444.08,14.50 L444.81,14.50 L445.53,14.50 L446.26,14.50 L446.98,14.50 L447.71,14.50 L448.43,14.50 L449.16,14.50 L449.88,14.50 L450.61,14.50 L451.33,14.50 L452.06,14.50 L452.78,14.50 L453.51,14.50 L454.24,14.50 L454.96,14.50 L455.69,14.50 L456.41,14.50 L457.14,14.50 L457.86,14.50 L458.59,14.50 L459.31,14.50 L460.04,14.50 L460.76,14.50 L461.49,14.50 L462.21,14.50 L462.94,14.50 L463.66,14.50 L464.39,14.50 L465.11,14.50 L465.84,14.50 L466.56,14.50 L467.29,14.50 L468.02,14.50 L468.74,14.50 L469.47,14.50 L470.19,14.50 L470.92,14.50 L471.64,14.50 L472.37,14.50 L473.09,14.50 L473.82,14.50 L474.54,14.50 L475.27,14.50 L475.99,14.50 L476.72,14.50 L477.44,14.50 L478.17,14.50 L478.89,14.50 L479.62,14.50 L480.34,14.50 L481.07,14.50 L481.80,14.50 L482.52,14.50 L483.25,14.50 L483.97,14.50 L484.70,14.50 L485.42,14.50 L486.15,14.50 L486.87,14.50 L487.60,14.50 L488.32,14.50 L489.05,14.50 L489.77,14.50 L490.50,14.50 L491.22,14.50 L491.95,14.50 L492.67,14.50 L493.40,14.50 L494.12,14.50 L494.85,14.50 L495.58,14.50 L496.30,14.50 L497.03,14.50 L497.75,14.50 L498.48,14.50 L499.20,14.50 L499.93,14.50 L500.65,14.50 L501.38,14.50 L502.10,14.50 L502.83,14.50 L503.55,14.50 L504.28,14.50 L505.00,14.50 L505.73,14.50 L506.45,14.50 L507.18,14.50 L507.90,14.50 L508.63,14.50 L509.36,14.50 L510.08,14.50 L510.81,14.50 L511.53,14.50 L512.26,14.50 L512.98,14.50 L513.71,14.50 L514.43,14.50 L515.16,14.50 L515.88,14.50 L516.61,14.50 L517.33,14.50 L518.06,14.50 L518.78,14.50 L519.51,14.50 L520.23,14.50 L520.96,14.50 L521.68,14.50 L522.41,14.50 L523.14,14.50 L523.86,14.50 L524.59,14.50 L525.31,14.50 L526.04,14.50 L526.76,14.50 L527.49,14.50 L528.21,14.50 L528.94,14.50 L529.66,14.50 L530.39,14.50 L531.11,14.50 L531.84,14.50 L532.56,14.50 L533.29,14.50 L534.01,14.50 L534.74,14.50 L535.47,14.50 L536.19,14.50 L536.92,14.50 L537.64,14.50 L538.37,14.50 L539.09,14.50 L539.82,14.50 L540.54,14.50 L541.27,14.50 L541.99,14.50 L542.72,14.50 L543.44,14.50 L544.17,14.50 L544.89,14.50 L545.62,14.50 L546.34,14.50 L547.07,14.50 L547.79,14.50 L548.52,14.50 L549.25,14.50 L549.97,14.50 L550.70,14.50 L551.42,14.50 L552.15,14.50 L552.87,14.50 L553.60,14.50 L554.32,14.50 L555.05,14.50 L555.77,14.50 L556.50,14.50 L557.22,14.50 L557.95,14.50 L558.67,14.50 L559.40,14.50 L560.12,14.50 L560.85,14.50 L561.57,14.50 L562.30,14.50 L563.03,14.50 L563.75,14.50 L564.48,14.50 L565.20,14.50 L565.93,14.50 L566.65,14.50 L567.38,14.50 L568.10,14.50 L568.83,14.50 L569.55,14.50 L570.28,14.50 L571.00,14.50 L571.73,14.50 L572.45,14.50 L573.18,14.50 L573.90,14.50 L574.63,14.50 L575.35,14.50 L576.08,14.50 L576.81,14.50 L577.53,14.50 L578.26,14.50 L578.98,14.50 L579.71,14.50 L580.43,14.50 L581.16,14.50 L581.88,14.50 L582.61,14.50 L583.33,14.50 L584.06,14.50 L584.78,14.50 L585.51,14.50 L586.23,14.50 L586.96,14.50 L587.68,14.50 L588.41,14.50 L589.13,14.50 L589.86,14.50 L590.59,14.50 L591.31,14.50 L592.04,14.50 L592.76,14.50 L593.49,14.50 L594.21,14.50 L594.94,14.50 L595.66,14.50 L596.39,14.50 L597.11,14.50 L597.84,14.50 L598.56,14.50 L599.29,14.50 L600.01,14.50 L600.74,14.50 L601.46,14.50 L602.19,14.50 L602.91,14.50 L603.64,14.50 L604.37,14.50 L605.09,14.50 L605.82,14.50 L606.54,14.50 L607.27,14.50 L607.99,14.50 L608.72,14.50 L609.44,14.50 L610.17,14.50 L610.89,14.50 L611.62,14.50 L612.34,14.50 L613.07,14.50 L613.79,14.50 L614.52,14.50 L615.24,14.50 L615.97,14.50 L616.69,14.50 L617.42,14.50 L618.15,14.50 L618.87,14.50 L619.60,14.50 L620.32,14.50 L621.05,14.50 L621.77,14.50 L622.50,14.50 L623.22,14.50 L623.95,14.50 L624.67,14.50 L625.40,14.50 L626.12,14.50 L626.85,14.50 L627.57,14.50 L628.30,14.50 L629.02,14.50 L629.75,14.50 L630.47,14.50 L631.20,14.50 L631.93,14.50 L632.65,14.50 L633.38,14.50 L634.10,14.50 L634.83,14.50 L635.55,14.50 L636.28,14.50 L637.00,14.50 L637.73,14.50 L638.45,14.50 L639.18,14.50 L639.90,14.50 L640.20,14.50" stroke="#37AD6B" stroke-width="1" fill="none"/><path d="M376.50,264.50 L377.03,264.29 L377.65,264.19 L378.25,264.04 L378.77,263.87 L379.27,263.64 L379.73,263.38 L380.16,263.06 L380.55,262.70 L380.92,262.31 L381.25,261.88 L381.54,261.43 L381.81,260.98 L382.07,260.47 L382.30,259.97 L382.53,259.42 L382.73,258.91 L382.93,258.35 L383.13,257.74 L383.29,257.19 L383.46,256.61 L383.62,255.99 L383.79,255.33 L383.95,254.62 L384.08,254.02 L384.21,253.40 L384.35,252.74 L384.48,252.05 L384.61,251.33 L384.74,250.58 L384.87,249.79 L384.97,249.17 L385.07,248.54 L385.17,247.88 L385.27,247.20 L385.37,246.50 L385.47,245.78 L385.57,245.04 L385.66,244.27 L385.76,243.48 L385.86,242.67 L385.96,241.83 L386.06,240.96 L386.16,240.08 L386.26,239.16 L386.36,238.23 L386.42,237.59 L386.49,236.93 L386.55,236.27 L386.62,235.60 L386.69,234.91 L386.75,234.21 L386.82,233.50 L386.88,232.78 L386.95,232.04 L387.02,231.30 L387.08,230.54 L387.15,229.77 L387.21,228.98 L387.28,228.19 L387.35,227.38 L387.41,226.56 L387.48,225.72 L387.54,224.88 L387.61,224.02 L387.68,223.15 L387.74,222.26 L387.81,221.37 L387.87,220.46 L387.94,219.54 L388.01,218.60 L388.07,217.66 L388.14,216.70 L388.20,215.72 L388.27,214.74 L388.34,213.74 L388.40,212.73 L388.47,211.71 L388.53,210.68 L388.60,209.63 L388.66,208.57 L388.73,207.50 L388.80,206.42 L388.86,205.32 L388.93,204.22 L388.99,203.10 L389.06,201.97 L389.13,200.83 L389.19,199.67 L389.26,198.51 L389.32,197.33 L389.39,196.14 L389.46,194.94 L389.52,193.73 L389.59,192.51 L389.65,191.28 L389.72,190.04 L389.79,188.79 L389.85,187.52 L389.92,186.25 L389.98,184.97 L390.05,183.68 L390.12,182.38 L390.18,181.07 L390.25,179.75 L390.31,178.42 L390.35,177.75 L390.38,177.08 L390.41,176.41 L390.44,175.74 L390.48,175.06 L390.51,174.39 L390.54,173.71 L390.58,173.02 L390.61,172.34 L390.64,171.66 L390.68,170.97 L390.71,170.28 L390.74,169.59 L390.77,168.90 L390.81,168.20 L390.84,167.51 L390.87,166.81 L390.91,166.11 L390.94,165.41 L390.97,164.71 L391.01,164.00 L391.04,163.30 L391.07,162.59 L391.10,161.88 L391.14,161.17 L391.17,160.46 L391.20,159.75 L391.24,159.04 L391.27,158.32 L391.30,157.60 L391.33,156.89 L391.37,156.17 L391.40,155.45 L391.43,154.73 L391.47,154.01 L391.50,153.28 L391.53,152.56 L391.57,151.84 L391.60,151.11 L391.63,150.38 L391.66,149.66 L391.70,148.93 L391.73,148.20 L391.76,147.47 L391.80,146.74 L391.83,146.01 L391.86,145.28 L391.90,144.55 L391.93,143.81 L391.96,143.08 L391.99,142.35 L392.03,141.61 L392.06,140.88 L392.09,140.15 L392.13,139.41 L392.16,138.68 L392.19,137.94 L392.23,137.21 L392.26,136.47 L392.29,135.74 L392.32,135.00 L392.36,134.26 L392.39,133.53 L392.42,132.79 L392.46,132.06 L392.49,131.32 L392.52,130.59 L392.55,129.85 L392.59,129.12 L392.62,128.39 L392.65,127.65 L392.69,126.92 L392.72,126.19 L392.75,125.46 L392.79,124.72 L392.82,123.99 L392.85,123.26 L392.88,122.53 L392.92,121.80 L392.95,121.08 L392.98,120.35 L393.02,119.62 L393.05,118.89 L393.08,118.17 L393.12,117.45 L393.15,116.72 L393.18,116.00 L393.21,115.28 L393.25,114.56 L393.28,113.84 L393.31,113.12 L393.35,112.41 L393.38,111.69 L393.41,110.98 L393.44,110.26 L393.48,109.55 L393.51,108.84 L393.54,108.13 L393.58,107.43 L393.61,106.72 L393.64,106.02 L393.68,105.31 L393.71,104.61 L393.74,103.91 L393.77,103.22 L393.81,102.52 L393.84,101.83 L393.87,101.13 L393.91,100.44 L393.94,99.75 L393.97,99.07 L394.01,98.38 L394.04,97.70 L394.07,97.02 L394.10,96.34 L394.14,95.66 L394.17,94.99 L394.20,94.32 L394.24,93.64 L394.27,92.98 L394.33,91.65 L394.40,90.33 L394.47,89.01 L394.53,87.71 L394.60,86.42 L394.66,85.14 L394.73,83.87 L394.80,82.60 L394.86,81.35 L394.93,80.11 L394.99,78.88 L395.06,77.67 L395.13,76.46 L395.19,75.27 L395.26,74.08 L395.32,72.91 L395.39,71.75 L395.46,70.61 L395.52,69.47 L395.59,68.35 L395.65,67.24 L395.72,66.15 L395.79,65.06 L395.85,63.99 L395.92,62.94 L395.98,61.89 L396.05,60.86 L396.12,59.84 L396.18,58.84 L396.25,57.85 L396.31,56.87 L396.38,55.91 L396.44,54.96 L396.51,54.03 L396.58,53.10 L396.64,52.19 L396.71,51.30 L396.77,50.42 L396.84,49.55 L396.91,48.70 L396.97,47.86 L397.04,47.03 L397.10,46.22 L397.17,45.42 L397.24,44.64 L397.30,43.87 L397.37,43.11 L397.43,42.36 L397.50,41.63 L397.57,40.92 L397.63,40.21 L397.70,39.52 L397.76,38.84 L397.83,38.18 L397.90,37.53 L397.96,36.89 L398.06,35.96 L398.16,35.05 L398.26,34.17 L398.36,33.32 L398.46,32.50 L398.55,31.71 L398.65,30.94 L398.75,30.20 L398.85,29.48 L398.95,28.79 L399.05,28.12 L399.15,27.48 L399.25,26.86 L399.38,26.07 L399.51,25.32 L399.64,24.61 L399.77,23.94 L399.91,23.30 L400.04,22.70 L400.17,22.13 L400.33,21.47 L400.50,20.85 L400.66,20.28 L400.86,19.65 L401.06,19.08 L401.26,18.56 L401.49,18.02 L401.72,17.54 L401.98,17.06 L402.28,16.60 L402.61,16.18 L402.97,15.80 L403.37,15.47 L403.83,15.18 L404.32,14.96 L404.88,14.79 L405.48,14.67 L406.10,14.60 L406.76,14.55 L407.46,14.53 L408.15,14.51 L408.87,14.51 L409.60,14.50 L410.32,14.50 L411.05,14.50 L411.77,14.50 L412.50,14.50 L413.22,14.50 L413.95,14.50 L414.68,14.50 L415.40,14.50 L416.13,14.50 L416.85,14.50 L417.58,14.50 L418.30,14.50 L419.03,14.50 L419.75,14.50 L420.48,14.50 L421.20,14.50 L421.93,14.50 L422.65,14.50 L423.38,14.50 L424.10,14.50 L424.83,14.50 L425.55,14.50 L426.28,14.50 L427.00,14.50 L427.73,14.50 L428.46,14.50 L429.18,14.50 L429.91,14.50 L430.63,14.50 L431.36,14.50 L432.08,14.50 L432.81,14.50 L433.53,14.50 L434.26,14.50 L434.98,14.50 L435.71,14.50 L436.43,14.50 L437.16,14.50 L437.88,14.50 L438.61,14.50 L439.33,14.50 L440.06,14.50 L440.78,14.50 L441.51,14.50 L442.24,14.50 L442.96,14.50 L443.69,14.50 L444.41,14.50 L445.14,14.50 L445.86,14.50 L446.59,14.50 L447.31,14.50 L448.04,14.50 L448.76,14.50 L449.49,14.50 L450.21,14.50 L450.94,14.50 L451.66,14.50 L452.39,14.50 L453.11,14.50 L453.84,14.50 L454.56,14.50 L455.29,14.50 L456.02,14.50 L456.74,14.50 L457.47,14.50 L458.19,14.50 L458.92,14.50 L459.64,14.50 L460.37,14.50 L461.09,14.50 L461.82,14.50 L462.54,14.50 L463.27,14.50 L463.99,14.50 L464.72,14.50 L465.44,14.50 L466.17,14.50 L466.89,14.50 L467.62,14.50 L468.35,14.50 L469.07,14.50 L469.80,14.50 L470.52,14.50 L471.25,14.50 L471.97,14.50 L472.70,14.50 L473.42,14.50 L474.15,14.50 L474.87,14.50 L475.60,14.50 L476.32,14.50 L477.05,14.50 L477.77,14.50 L478.50,14.50 L479.22,14.50 L479.95,14.50 L480.67,14.50 L481.40,14.50 L482.13,14.50 L482.85,14.50 L483.58,14.50 L484.30,14.50 L485.03,14.50 L485.75,14.50 L486.48,14.50 L487.20,14.50 L487.93,14.50 L488.65,14.50 L489.38,14.50 L490.10,14.50 L490.83,14.50 L491.55,14.50 L492.28,14.50 L493.00,14.50 L493.73,14.50 L494.45,14.50 L495.18,14.50 L495.91,14.50 L496.63,14.50 L497.36,14.50 L498.08,14.50 L498.81,14.50 L499.53,14.50 L500.26,14.50 L500.98,14.50 L501.71,14.50 L502.43,14.50 L503.16,14.50 L503.88,14.50 L504.61,14.50 L505.33,14.50 L506.06,14.50 L506.78,14.50 L507.51,14.50 L508.23,14.50 L508.96,14.50 L509.69,14.50 L510.41,14.50 L511.14,14.50 L511.86,14.50 L512.59,14.50 L513.31,14.50 L514.04,14.50 L514.76,14.50 L515.49,14.50 L516.21,14.50 L516.94,14.50 L517.66,14.50 L518.39,14.50 L519.11,14.50 L519.84,14.50 L520.56,14.50 L521.29,14.50 L522.01,14.50 L522.74,14.50 L523.47,14.50 L524.19,14.50 L524.92,14.50 L525.64,14.50 L526.37,14.50 L527.09,14.50 L527.82,14.50 L528.54,14.50 L529.27,14.50 L529.99,14.50 L530.72,14.50 L531.44,14.50 L532.17,14.50 L532.89,14.50 L533.62,14.50 L534.34,14.50 L535.07,14.50 L535.79,14.50 L536.52,14.50 L537.25,14.50 L537.97,14.50 L538.70,14.50 L539.42,14.50 L540.15,14.50 L540.87,14.50 L541.60,14.50 L542.32,14.50 L543.05,14.50 L543.77,14.50 L544.50,14.50 L545.22,14.50 L545.95,14.50 L546.67,14.50 L547.40,14.50 L548.12,14.50 L548.85,14.50 L549.57,14.50 L550.30,14.50 L551.03,14.50 L551.75,14.50 L552.48,14.50 L553.20,14.50 L553.93,14.50 L554.65,14.50 L555.38,14.50 L556.10,14.50 L556.83,14.50 L557.55,14.50 L558.28,14.50 L559.00,14.50 L559.73,14.50 L560.45,14.50 L561.18,14.50 L561.90,14.50 L562.63,14.50 L563.35,14.50 L564.08,14.50 L564.81,14.50 L565.53,14.50 L566.26,14.50 L566.98,14.50 L567.71,14.50 L568.43,14.50 L569.16,14.50 L569.88,14.50 L570.61,14.50 L571.33,14.50 L572.06,14.50 L572.78,14.50 L573.51,14.50 L574.23,14.50 L574.96,14.50 L575.68,14.50 L576.41,14.50 L577.13,14.50 L577.86,14.50 L578.59,14.50 L579.31,14.50 L580.04,14.50 L580.76,14.50 L581.49,14.50 L582.21,14.50 L582.94,14.50 L583.66,14.50 L584.39,14.50 L585.11,14.50 L585.84,14.50 L586.56,14.50 L587.29,14.50 L588.01,14.50 L588.74,14.50 L589.46,14.50 L590.19,14.50 L590.91,14.50 L591.64,14.50 L592.37,14.50 L593.09,14.50 L593.82,14.50 L594.54,14.50 L595.27,14.50 L595.99,14.50 L596.72,14.50 L597.44,14.50 L598.17,14.50 L598.89,14.50 L599.62,14.50 L600.34,14.50 L601.07,14.50 L601.79,14.50 L602.52,14.50 L603.24,14.50 L603.97,14.50 L604.69,14.50 L605.42,14.50 L606.15,14.50 L606.87,14.50 L607.60,14.50 L608.32,14.50 L609.05,14.50 L609.77,14.50 L610.50,14.50 L611.22,14.50 L611.95,14.50 L612.67,14.50 L613.40,14.50 L614.12,14.50 L614.85,14.50 L615.57,14.50 L616.30,14.50 L617.02,14.50 L617.75,14.50 L618.47,14.50 L619.20,14.50 L619.93,14.50 L620.65,14.50 L621.38,14.50 L622.10,14.50 L622.83,14.50 L623.55,14.50 L624.28,14.50 L625.00,14.50 L625.73,14.50 L626.45,14.50 L627.18,14.50 L627.90,14.50 L628.63,14.50 L629.35,14.50 L630.08,14.50 L630.80,14.50 L631.53,14.50 L632.26,14.50 L632.98,14.50 L633.71,14.50 L634.43,14.50 L635.16,14.50 L635.88,14.50 L636.61,14.50 L637.33,14.50 L638.06,14.50 L638.78,14.50 L639.51,14.50 L640.20,14.50" stroke="#B177DE" stroke-width="1" fill="none"/><path d="M376.50,264.50 L377.03,264.33 L377.72,264.29 L378.38,264.24 L379.04,264.19 L379.70,264.12 L380.32,264.05 L380.95,263.96 L381.58,263.85 L382.17,263.73 L382.76,263.59 L383.32,263.44 L383.88,263.26 L384.41,263.07 L384.94,262.85 L385.43,262.62 L385.90,262.37 L386.36,262.10 L386.79,261.81 L387.21,261.50 L387.61,261.17 L388.01,260.82 L388.37,260.47 L388.73,260.08 L389.06,259.70 L389.39,259.29 L389.72,258.85 L390.02,258.43 L390.31,257.98 L390.61,257.50 L390.87,257.04 L391.14,256.56 L391.40,256.05 L391.66,255.52 L391.90,255.03 L392.13,254.51 L392.36,253.97 L392.59,253.40 L392.79,252.90 L392.98,252.37 L393.18,251.83 L393.38,251.26 L393.58,250.67 L393.77,250.06 L393.97,249.43 L394.14,248.88 L394.30,248.32 L394.47,247.75 L394.63,247.15 L394.80,246.54 L394.96,245.91 L395.13,245.26 L395.29,244.60 L395.46,243.91 L395.62,243.21 L395.75,242.63 L395.88,242.04 L396.02,241.44 L396.15,240.83 L396.28,240.20 L396.41,239.56 L396.54,238.91 L396.68,238.24 L396.81,237.56 L396.94,236.87 L397.07,236.16 L397.20,235.44 L397.33,234.70 L397.47,233.96 L397.60,233.19 L397.73,232.41 L397.86,231.62 L397.96,231.02 L398.06,230.41 L398.16,229.79 L398.26,229.16 L398.36,228.52 L398.46,227.88 L398.55,227.22 L398.65,226.56 L398.75,225.89 L398.85,225.21 L398.95,224.53 L399.05,223.83 L399.15,223.13 L399.25,222.42 L399.35,221.70 L399.44,220.97 L399.54,220.23 L399.64,219.48 L399.74,218.73 L399.84,217.97 L399.94,217.19 L400.04,216.41 L400.14,215.62 L400.24,214.83 L400.33,214.02 L400.43,213.21 L400.53,212.39 L400.63,211.55 L400.73,210.71 L400.83,209.87 L400.93,209.01 L401.03,208.15 L401.13,207.27 L401.22,206.39 L401.32,205.50 L401.42,204.61 L401.52,203.70 L401.62,202.79 L401.72,201.87 L401.82,200.94 L401.92,200.00 L402.02,199.06 L402.08,198.42 L402.15,197.78 L402.21,197.14 L402.28,196.50 L402.35,195.85 L402.41,195.20 L402.48,194.55 L402.54,193.89 L402.61,193.23 L402.68,192.56 L402.74,191.90 L402.81,191.23 L402.87,190.55 L402.94,189.88 L403.01,189.20 L403.07,188.51 L403.14,187.83 L403.20,187.14 L403.27,186.45 L403.33,185.75 L403.40,185.05 L403.47,184.35 L403.53,183.65 L403.60,182.94 L403.66,182.23 L403.73,181.52 L403.80,180.81 L403.86,180.09 L403.93,179.37 L403.99,178.65 L404.06,177.92 L404.13,177.20 L404.19,176.47 L404.26,175.73 L404.32,175.00 L404.39,174.26 L404.46,173.52 L404.52,172.78 L404.59,172.04 L404.65,171.29 L404.72,170.54 L404.79,169.79 L404.85,169.04 L404.92,168.28 L404.98,167.53 L405.05,166.77 L405.12,166.01 L405.18,165.24 L405.25,164.48 L405.31,163.71 L405.38,162.95 L405.44,162.18 L405.51,161.41 L405.58,160.63 L405.64,159.86 L405.71,159.08 L405.77,158.31 L405.84,157.53 L405.91,156.75 L405.97,155.97 L406.04,155.19 L406.10,154.40 L406.17,153.62 L406.24,152.83 L406.30,152.05 L406.37,151.26 L406.43,150.47 L406.50,149.68 L406.57,148.89 L406.63,148.10 L406.70,147.31 L406.76,146.52 L406.83,145.72 L406.90,144.93 L406.96,144.14 L407.03,143.34 L407.09,142.55 L407.16,141.75 L407.22,140.96 L407.29,140.16 L407.36,139.36 L407.42,138.57 L407.49,137.77 L407.55,136.98 L407.62,136.18 L407.69,135.38 L407.75,134.59 L407.82,133.79 L407.88,133.00 L407.95,132.20 L408.02,131.41 L408.08,130.61 L408.15,129.82 L408.21,129.02 L408.28,128.23 L408.35,127.44 L408.41,126.65 L408.48,125.86 L408.54,125.07 L408.61,124.28 L408.68,123.49 L408.74,122.70 L408.81,121.92 L408.87,121.13 L408.94,120.35 L409.01,119.56 L409.07,118.78 L409.14,118.00 L409.20,117.22 L409.27,116.44 L409.33,115.67 L409.40,114.89 L409.47,114.12 L409.53,113.35 L409.60,112.58 L409.66,111.81 L409.73,111.04 L409.80,110.28 L409.86,109.51 L409.93,108.75 L409.99,107.99 L410.06,107.23 L410.13,106.48 L410.19,105.72 L410.26,104.97 L410.32,104.22 L410.39,103.48 L410.46,102.73 L410.52,101.99 L410.59,101.25 L410.65,100.51 L410.72,99.77 L410.79,99.04 L410.85,98.31 L410.92,97.58 L410.98,96.85 L411.05,96.13 L411.11,95.41 L411.18,94.69 L411.25,93.98 L411.31,93.27 L411.38,92.56 L411.44,91.85 L411.51,91.15 L411.58,90.44 L411.64,89.75 L411.71,89.05 L411.77,88.36 L411.84,87.67 L411.91,86.98 L411.97,86.30 L412.04,85.62 L412.10,84.94 L412.17,84.27 L412.24,83.60 L412.30,82.93 L412.37,82.27 L412.43,81.61 L412.50,80.95 L412.57,80.30 L412.63,79.65 L412.70,79.00 L412.76,78.36 L412.83,77.72 L412.90,77.08 L412.99,76.13 L413.09,75.19 L413.19,74.26 L413.29,73.34 L413.39,72.42 L413.49,71.51 L413.59,70.62 L413.69,69.73 L413.79,68.84 L413.88,67.97 L413.98,67.10 L414.08,66.25 L414.18,65.40 L414.28,64.56 L414.38,63.73 L414.48,62.91 L414.58,62.09 L414.68,61.29 L414.77,60.49 L414.87,59.71 L414.97,58.93 L415.07,58.16 L415.17,57.40 L415.27,56.65 L415.37,55.90 L415.47,55.17 L415.57,54.45 L415.66,53.73 L415.76,53.02 L415.86,52.32 L415.96,51.63 L416.06,50.95 L416.16,50.28 L416.26,49.62 L416.36,48.96 L416.46,48.32 L416.55,47.68 L416.65,47.05 L416.75,46.43 L416.85,45.82 L416.95,45.22 L417.08,44.43 L417.21,43.65 L417.35,42.89 L417.48,42.15 L417.61,41.42 L417.74,40.70 L417.87,40.00 L418.00,39.31 L418.14,38.64 L418.27,37.98 L418.40,37.34 L418.53,36.70 L418.66,36.09 L418.80,35.48 L418.93,34.89 L419.06,34.32 L419.22,33.61 L419.39,32.93 L419.55,32.27 L419.72,31.62 L419.88,31.00 L420.05,30.39 L420.21,29.80 L420.38,29.23 L420.54,28.68 L420.71,28.14 L420.91,27.52 L421.10,26.93 L421.30,26.35 L421.50,25.80 L421.70,25.27 L421.90,24.76 L422.13,24.20 L422.36,23.66 L422.59,23.14 L422.82,22.65 L423.08,22.12 L423.35,21.62 L423.61,21.15 L423.87,20.71 L424.17,20.24 L424.47,19.81 L424.76,19.40 L425.09,18.98 L425.42,18.60 L425.79,18.21 L426.15,17.85 L426.54,17.50 L426.94,17.18 L427.37,16.87 L427.80,16.59 L428.26,16.33 L428.75,16.08 L429.25,15.86 L429.77,15.66 L430.30,15.49 L430.86,15.33 L431.46,15.19 L432.05,15.07 L432.68,14.97 L433.30,14.88 L433.96,14.81 L434.62,14.75 L435.28,14.70 L435.97,14.66 L436.66,14.63 L437.36,14.60 L438.05,14.58 L438.74,14.56 L439.43,14.55 L440.13,14.54 L440.82,14.53 L441.54,14.52 L442.27,14.52 L442.99,14.51 L443.72,14.51 L444.44,14.51 L445.17,14.51 L445.89,14.51 L446.62,14.50 L447.35,14.50 L448.07,14.50 L448.80,14.50 L449.52,14.50 L450.25,14.50 L450.97,14.50 L451.70,14.50 L452.42,14.50 L453.15,14.50 L453.87,14.50 L454.60,14.50 L455.32,14.50 L456.05,14.50 L456.77,14.50 L457.50,14.50 L458.22,14.50 L458.95,14.50 L459.67,14.50 L460.40,14.50 L461.13,14.50 L461.85,14.50 L462.58,14.50 L463.30,14.50 L464.03,14.50 L464.75,14.50 L465.48,14.50 L466.20,14.50 L466.93,14.50 L467.65,14.50 L468.38,14.50 L469.10,14.50 L469.83,14.50 L470.55,14.50 L471.28,14.50 L472.00,14.50 L472.73,14.50 L473.45,14.50 L474.18,14.50 L474.91,14.50 L475.63,14.50 L476.36,14.50 L477.08,14.50 L477.81,14.50 L478.53,14.50 L479.26,14.50 L479.98,14.50 L480.71,14.50 L481.43,14.50 L482.16,14.50 L482.88,14.50 L483.61,14.50 L484.33,14.50 L485.06,14.50 L485.78,14.50 L486.51,14.50 L487.23,14.50 L487.96,14.50 L488.69,14.50 L489.41,14.50 L490.14,14.50 L490.86,14.50 L491.59,14.50 L492.31,14.50 L493.04,14.50 L493.76,14.50 L494.49,14.50 L495.21,14.50 L495.94,14.50 L496.66,14.50 L497.39,14.50 L498.11,14.50 L498.84,14.50 L499.56,14.50 L500.29,14.50 L501.01,14.50 L501.74,14.50 L502.47,14.50 L503.19,14.50 L503.92,14.50 L504.64,14.50 L505.37,14.50 L506.09,14.50 L506.82,14.50 L507.54,14.50 L508.27,14.50 L508.99,14.50 L509.72,14.50 L510.44,14.50 L511.17,14.50 L511.89,14.50 L512.62,14.50 L513.34,14.50 L514.07,14.50 L514.79,14.50 L515.52,14.50 L516.25,14.50 L516.97,14.50 L517.70,14.50 L518.42,14.50 L519.15,14.50 L519.87,14.50 L520.60,14.50 L521.32,14.50 L522.05,14.50 L522.77,14.50 L523.50,14.50 L524.22,14.50 L524.95,14.50 L525.67,14.50 L526.40,14.50 L527.12,14.50 L527.85,14.50 L528.58,14.50 L529.30,14.50 L530.03,14.50 L530.75,14.50 L531.48,14.50 L532.20,14.50 L532.93,14.50 L533.65,14.50 L534.38,14.50 L535.10,14.50 L535.83,14.50 L536.55,14.50 L537.28,14.50 L538.00,14.50 L538.73,14.50 L539.45,14.50 L540.18,14.50 L540.90,14.50 L541.63,14.50 L542.36,14.50 L543.08,14.50 L543.81,14.50 L544.53,14.50 L545.26,14.50 L545.98,14.50 L546.71,14.50 L547.43,14.50 L548.16,14.50 L548.88,14.50 L549.61,14.50 L550.33,14.50 L551.06,14.50 L551.78,14.50 L552.51,14.50 L553.23,14.50 L553.96,14.50 L554.68,14.50 L555.41,14.50 L556.14,14.50 L556.86,14.50 L557.59,14.50 L558.31,14.50 L559.04,14.50 L559.76,14.50 L560.49,14.50 L561.21,14.50 L561.94,14.50 L562.66,14.50 L563.39,14.50 L564.11,14.50 L564.84,14.50 L565.56,14.50 L566.29,14.50 L567.01,14.50 L567.74,14.50 L568.46,14.50 L569.19,14.50 L569.92,14.50 L570.64,14.50 L571.37,14.50 L572.09,14.50 L572.82,14.50 L573.54,14.50 L574.27,14.50 L574.99,14.50 L575.72,14.50 L576.44,14.50 L577.17,14.50 L577.89,14.50 L578.62,14.50 L579.34,14.50 L580.07,14.50 L580.79,14.50 L581.52,14.50 L582.24,14.50 L582.97,14.50 L583.70,14.50 L584.42,14.50 L585.15,14.50 L585.87,14.50 L586.60,14.50 L587.32,14.50 L588.05,14.50 L588.77,14.50 L589.50,14.50 L590.22,14.50 L590.95,14.50 L591.67,14.50 L592.40,14.50 L593.12,14.50 L593.85,14.50 L594.57,14.50 L595.30,14.50 L596.02,14.50 L596.75,14.50 L597.48,14.50 L598.20,14.50 L598.93,14.50 L599.65,14.50 L600.38,14.50 L601.10,14.50 L601.83,14.50 L602.55,14.50 L603.28,14.50 L604.00,14.50 L604.73,14.50 L605.45,14.50 L606.18,14.50 L606.90,14.50 L607.63,14.50 L608.35,14.50 L609.08,14.50 L609.80,14.50 L610.53,14.50 L611.26,14.50 L611.98,14.50 L612.71,14.50 L613.43,14.50 L614.16,14.50 L614.88,14.50 L615.61,14.50 L616.33,14.50 L617.06,14.50 L617.78,14.50 L618.51,14.50 L619.23,14.50 L619.96,14.50 L620.68,14.50 L621.41,14.50 L622.13,14.50 L622.86,14.50 L623.58,14.50 L624.31,14.50 L625.04,14.50 L625.76,14.50 L626.49,14.50 L627.21,14.50 L627.94,14.50 L628.66,14.50 L629.39,14.50 L630.11,14.50 L630.84,14.50 L631.56,14.50 L632.29,14.50 L633.01,14.50 L633.74,14.50 L634.46,14.50 L635.19,14.50 L635.91,14.50 L636.64,14.50 L637.36,14.50 L638.09,14.50 L638.82,14.50 L639.54,14.50 L640.20,14.50" stroke="#CC9900" stroke-width="1" fill="none"/><path d="M376.50,264.50 L376.50,263.46 L377.13,263.37 L377.75,263.26 L378.38,263.15 L378.97,263.04 L379.57,262.92 L380.16,262.79 L380.75,262.66 L381.35,262.52 L381.91,262.38 L382.47,262.23 L383.03,262.07 L383.59,261.90 L384.15,261.72 L384.68,261.55 L385.20,261.37 L385.73,261.18 L386.26,260.98 L386.79,260.77 L387.31,260.55 L387.81,260.34 L388.30,260.12 L388.80,259.88 L389.29,259.65 L389.79,259.40 L390.25,259.16 L390.71,258.91 L391.17,258.65 L391.63,258.38 L392.09,258.11 L392.55,257.82 L392.98,257.55 L393.41,257.27 L393.84,256.98 L394.27,256.68 L394.70,256.37 L395.13,256.06 L395.55,255.73 L395.95,255.43 L396.35,255.11 L396.74,254.79 L397.14,254.46 L397.53,254.12 L397.93,253.78 L398.32,253.42 L398.72,253.06 L399.08,252.72 L399.44,252.37 L399.81,252.02 L400.17,251.66 L400.53,251.29 L400.90,250.91 L401.26,250.53 L401.62,250.14 L401.98,249.74 L402.35,249.34 L402.68,248.96 L403.01,248.58 L403.33,248.19 L403.66,247.80 L403.99,247.40 L404.32,246.99 L404.65,246.58 L404.98,246.16 L405.31,245.73 L405.64,245.30 L405.97,244.86 L406.30,244.41 L406.60,244.00 L406.90,243.59 L407.19,243.17 L407.49,242.75 L407.79,242.32 L408.08,241.88 L408.38,241.44 L408.68,240.99 L408.97,240.54 L409.27,240.08 L409.57,239.62 L409.86,239.15 L410.16,238.68 L410.46,238.20 L410.75,237.72 L411.05,237.23 L411.31,236.78 L411.58,236.34 L411.84,235.89 L412.10,235.44 L412.37,234.98 L412.63,234.51 L412.90,234.05 L413.16,233.57 L413.42,233.10 L413.69,232.62 L413.95,232.13 L414.21,231.64 L414.48,231.15 L414.74,230.65 L415.01,230.15 L415.27,229.64 L415.53,229.13 L415.80,228.61 L416.06,228.09 L416.32,227.57 L416.59,227.04 L416.85,226.51 L417.08,226.04 L417.31,225.56 L417.54,225.09 L417.77,224.61 L418.00,224.12 L418.24,223.64 L418.47,223.15 L418.70,222.65 L418.93,222.16 L419.16,221.66 L419.39,221.16 L419.62,220.65 L419.85,220.14 L420.08,219.63 L420.31,219.11 L420.54,218.59 L420.77,218.07 L421.00,217.55 L421.24,217.02 L421.47,216.49 L421.70,215.95 L421.93,215.41 L422.16,214.87 L422.39,214.33 L422.62,213.78 L422.85,213.23 L423.08,212.68 L423.31,212.13 L423.54,211.57 L423.77,211.00 L424.00,210.44 L424.24,209.87 L424.47,209.30 L424.70,208.73 L424.93,208.15 L425.16,207.57 L425.39,206.99 L425.62,206.41 L425.82,205.90 L426.02,205.40 L426.21,204.89 L426.41,204.38 L426.61,203.87 L426.81,203.36 L427.00,202.84 L427.20,202.32 L427.40,201.80 L427.60,201.28 L427.80,200.76 L427.99,200.23 L428.19,199.71 L428.39,199.18 L428.59,198.65 L428.79,198.11 L428.98,197.58 L429.18,197.04 L429.38,196.50 L429.58,195.96 L429.77,195.42 L429.97,194.88 L430.17,194.33 L430.37,193.79 L430.57,193.24 L430.76,192.69 L430.96,192.14 L431.16,191.58 L431.36,191.03 L431.55,190.47 L431.75,189.91 L431.95,189.35 L432.15,188.79 L432.35,188.23 L432.54,187.66 L432.74,187.10 L432.94,186.53 L433.14,185.96 L433.33,185.39 L433.53,184.82 L433.73,184.25 L433.93,183.67 L434.13,183.09 L434.32,182.52 L434.52,181.94 L434.72,181.36 L434.92,180.78 L435.11,180.19 L435.31,179.61 L435.51,179.02 L435.71,178.44 L435.91,177.85 L436.10,177.26 L436.30,176.67 L436.50,176.08 L436.70,175.49 L436.89,174.89 L437.09,174.30 L437.29,173.70 L437.49,173.11 L437.69,172.51 L437.88,171.91 L438.08,171.31 L438.28,170.71 L438.48,170.11 L438.68,169.50 L438.87,168.90 L439.07,168.30 L439.27,167.69 L439.47,167.08 L439.66,166.48 L439.86,165.87 L440.06,165.26 L440.26,164.65 L440.46,164.04 L440.65,163.43 L440.85,162.82 L441.05,162.21 L441.25,161.59 L441.44,160.98 L441.64,160.37 L441.84,159.75 L442.04,159.14 L442.24,158.52 L442.43,157.91 L442.63,157.29 L442.83,156.67 L443.03,156.05 L443.22,155.44 L443.42,154.82 L443.62,154.20 L443.82,153.58 L444.02,152.96 L444.21,152.34 L444.41,151.72 L444.61,151.10 L444.81,150.48 L445.00,149.86 L445.20,149.23 L445.40,148.61 L445.60,147.99 L445.80,147.37 L445.99,146.75 L446.19,146.12 L446.39,145.50 L446.59,144.88 L446.78,144.26 L446.98,143.63 L447.18,143.01 L447.38,142.39 L447.58,141.77 L447.77,141.15 L447.97,140.52 L448.17,139.90 L448.37,139.28 L448.57,138.66 L448.76,138.04 L448.96,137.41 L449.16,136.79 L449.36,136.17 L449.55,135.55 L449.75,134.93 L449.95,134.31 L450.15,133.69 L450.35,133.07 L450.54,132.45 L450.74,131.83 L450.94,131.21 L451.14,130.60 L451.33,129.98 L451.53,129.36 L451.73,128.75 L451.93,128.13 L452.13,127.51 L452.32,126.90 L452.52,126.28 L452.72,125.67 L452.92,125.06 L453.11,124.44 L453.31,123.83 L453.51,123.22 L453.71,122.61 L453.91,122.00 L454.10,121.39 L454.30,120.78 L454.50,120.18 L454.70,119.57 L454.89,118.96 L455.09,118.36 L455.29,117.75 L455.49,117.15 L455.69,116.55 L455.88,115.95 L456.08,115.35 L456.28,114.75 L456.48,114.15 L456.67,113.55 L456.87,112.95 L457.07,112.36 L457.27,111.76 L457.47,111.17 L457.66,110.58 L457.86,109.99 L458.06,109.40 L458.26,108.81 L458.46,108.22 L458.65,107.63 L458.85,107.05 L459.05,106.46 L459.25,105.88 L459.44,105.30 L459.64,104.72 L459.84,104.14 L460.04,103.56 L460.24,102.98 L460.43,102.41 L460.63,101.83 L460.83,101.26 L461.03,100.69 L461.22,100.12 L461.42,99.55 L461.62,98.98 L461.82,98.42 L462.02,97.85 L462.21,97.29 L462.41,96.73 L462.61,96.17 L462.81,95.61 L463.00,95.05 L463.20,94.50 L463.40,93.94 L463.60,93.39 L463.80,92.84 L463.99,92.29 L464.19,91.75 L464.39,91.20 L464.59,90.66 L464.78,90.11 L464.98,89.57 L465.18,89.03 L465.38,88.50 L465.58,87.96 L465.77,87.43 L465.97,86.90 L466.17,86.37 L466.37,85.84 L466.56,85.31 L466.76,84.79 L466.96,84.26 L467.16,83.74 L467.36,83.22 L467.55,82.71 L467.75,82.19 L467.95,81.68 L468.15,81.16 L468.35,80.65 L468.54,80.15 L468.74,79.64 L468.94,79.14 L469.14,78.63 L469.37,78.05 L469.60,77.47 L469.83,76.89 L470.06,76.31 L470.29,75.74 L470.52,75.17 L470.75,74.60 L470.98,74.04 L471.21,73.48 L471.44,72.92 L471.67,72.36 L471.91,71.81 L472.14,71.26 L472.37,70.71 L472.60,70.16 L472.83,69.62 L473.06,69.08 L473.29,68.55 L473.52,68.01 L473.75,67.48 L473.98,66.95 L474.21,66.43 L474.44,65.91 L474.67,65.39 L474.91,64.87 L475.14,64.36 L475.37,63.85 L475.60,63.34 L475.83,62.84 L476.06,62.34 L476.29,61.84 L476.52,61.34 L476.75,60.85 L476.98,60.36 L477.21,59.88 L477.44,59.39 L477.67,58.91 L477.91,58.44 L478.14,57.96 L478.37,57.49 L478.63,56.96 L478.89,56.43 L479.16,55.90 L479.42,55.38 L479.69,54.86 L479.95,54.35 L480.21,53.83 L480.48,53.33 L480.74,52.83 L481.00,52.33 L481.27,51.83 L481.53,51.34 L481.80,50.86 L482.06,50.38 L482.32,49.90 L482.59,49.42 L482.85,48.95 L483.11,48.49 L483.38,48.03 L483.64,47.57 L483.91,47.11 L484.17,46.66 L484.43,46.22 L484.70,45.78 L484.96,45.34 L485.26,44.85 L485.55,44.37 L485.85,43.89 L486.15,43.42 L486.44,42.95 L486.74,42.49 L487.04,42.03 L487.33,41.58 L487.63,41.13 L487.93,40.69 L488.22,40.25 L488.52,39.82 L488.82,39.39 L489.11,38.97 L489.41,38.55 L489.71,38.14 L490.00,37.73 L490.30,37.32 L490.63,36.88 L490.96,36.45 L491.29,36.02 L491.62,35.59 L491.95,35.17 L492.28,34.76 L492.61,34.35 L492.94,33.95 L493.27,33.55 L493.60,33.16 L493.93,32.78 L494.26,32.40 L494.59,32.03 L494.95,31.62 L495.31,31.23 L495.67,30.83 L496.04,30.45 L496.40,30.07 L496.76,29.70 L497.12,29.34 L497.49,28.98 L497.85,28.63 L498.21,28.28 L498.58,27.94 L498.97,27.58 L499.37,27.22 L499.76,26.87 L500.16,26.53 L500.55,26.19 L500.95,25.87 L501.34,25.54 L501.74,25.23 L502.14,24.92 L502.56,24.60 L502.99,24.28 L503.42,23.97 L503.85,23.66 L504.28,23.37 L504.71,23.08 L505.14,22.80 L505.56,22.52 L506.03,22.24 L506.49,21.96 L506.95,21.68 L507.41,21.42 L507.87,21.16 L508.33,20.91 L508.80,20.67 L509.29,20.42 L509.78,20.17 L510.28,19.94 L510.77,19.71 L511.27,19.49 L511.76,19.28 L512.26,19.07 L512.78,18.86 L513.31,18.65 L513.84,18.46 L514.37,18.27 L514.89,18.09 L515.42,17.91 L515.98,17.73 L516.54,17.56 L517.10,17.40 L517.66,17.24 L518.22,17.09 L518.78,16.95 L519.38,16.80 L519.97,16.66 L520.56,16.53 L521.16,16.41 L521.75,16.29 L522.34,16.18 L522.97,16.07 L523.60,15.96 L524.22,15.86 L524.85,15.77 L525.48,15.68 L526.10,15.59 L526.73,15.51 L527.36,15.44 L528.01,15.37 L528.67,15.30 L529.33,15.23 L529.99,15.17 L530.65,15.12 L531.31,15.07 L531.97,15.02 L532.63,14.97 L533.29,14.93 L533.98,14.89 L534.67,14.86 L535.37,14.82 L536.06,14.79 L536.75,14.76 L537.44,14.74 L538.14,14.71 L538.83,14.69 L539.52,14.67 L540.21,14.65 L540.90,14.64 L541.60,14.62 L542.29,14.61 L542.98,14.59 L543.67,14.58 L544.37,14.57 L545.06,14.56 L545.75,14.56 L546.48,14.55 L547.20,14.54 L547.93,14.54 L548.65,14.53 L549.38,14.53 L550.10,14.52 L550.83,14.52 L551.55,14.52 L552.28,14.51 L553.00,14.51 L553.73,14.51 L554.45,14.51 L555.18,14.51 L555.90,14.51 L556.63,14.51 L557.35,14.50 L558.08,14.50 L558.81,14.50 L559.53,14.50 L560.26,14.50 L560.98,14.50 L561.71,14.50 L562.43,14.50 L563.16,14.50 L563.88,14.50 L564.61,14.50 L565.33,14.50 L566.06,14.50 L566.78,14.50 L567.51,14.50 L568.23,14.50 L568.96,14.50 L569.68,14.50 L570.41,14.50 L571.13,14.50 L571.86,14.50 L572.59,14.50 L573.31,14.50 L574.04,14.50 L574.76,14.50 L575.49,14.50 L576.21,14.50 L576.94,14.50 L577.66,14.50 L578.39,14.50 L579.11,14.50 L579.84,14.50 L580.56,14.50 L581.29,14.50 L582.01,14.50 L582.74,14.50 L583.46,14.50 L584.19,14.50 L584.91,14.50 L585.64,14.50 L586.37,14.50 L587.09,14.50 L587.82,14.50 L588.54,14.50 L589.27,14.50 L589.99,14.50 L590.72,14.50 L591.44,14.50 L592.17,14.50 L592.89,14.50 L593.62,14.50 L594.34,14.50 L595.07,14.50 L595.79,14.50 L596.52,14.50 L597.24,14.50 L597.97,14.50 L598.70,14.50 L599.42,14.50 L600.15,14.50 L600.87,14.50 L601.60,14.50 L602.32,14.50 L603.05,14.50 L603.77,14.50 L604.50,14.50 L605.22,14.50 L605.95,14.50 L606.67,14.50 L607.40,14.50 L608.12,14.50 L608.85,14.50 L609.57,14.50 L610.30,14.50 L611.02,14.50 L611.75,14.50 L612.48,14.50 L613.20,14.50 L613.93,14.50 L614.65,14.50 L615.38,14.50 L616.10,14.50 L616.83,14.50 L617.55,14.50 L618.28,14.50 L619.00,14.50 L619.73,14.50 L620.45,14.50 L621.18,14.50 L621.90,14.50 L622.63,14.50 L623.35,14.50 L624.08,14.50 L624.80,14.50 L625.53,14.50 L626.26,14.50 L626.98,14.50 L627.71,14.50 L628.43,14.50 L629.16,14.50 L629.88,14.50 L630.61,14.50 L631.33,14.50 L632.06,14.50 L632.78,14.50 L633.51,14.50 L634.23,14.50 L634.96,14.50 L635.68,14.50 L636.41,14.50 L637.13,14.50 L637.86,14.50 L638.58,14.50 L639.31,14.50 L640.04,14.50 L640.20,14.50" stroke="#00CBCC" stroke-width="1" fill="none"/><path d="M376.00,13.50 H670.00" stroke="#808080" stroke-width="1" fill="none"/><path d="M376.50,13.00 V264.50 H669.50 V13.00" stroke="#303030" stroke-width="1" fill="none"/><path d="M236.8,39.46 H257" stroke="#515151" stroke-width="1.2"/><path d="M236.8,53.13 H257" stroke="#F14040" stroke-width="1.2"/><path d="M236.8,66.79 H257" stroke="#1A6FDF" stroke-width="1.2"/><path d="M236.8,80.46 H257" stroke="#37AD6B" stroke-width="1.2"/><path d="M588.9,40.46 H610.7" stroke="#515151" stroke-width="1.2"/><path d="M588.9,54.13 H610.7" stroke="#F14040" stroke-width="1.2"/><path d="M588.9,67.79 H610.7" stroke="#1A6FDF" stroke-width="1.2"/><path d="M588.9,81.46 H610.7" stroke="#37AD6B" stroke-width="1.2"/><path d="M588.9,95.13 H610.7" stroke="#B177DE" stroke-width="1.2"/><path d="M588.9,108.79 H610.7" stroke="#CC9900" stroke-width="1.2"/><path d="M588.9,122.46 H610.7" stroke="#00CBCC" stroke-width="1.2"/><text x="123.80" y="8.90" font-size="13.40" fill="#000" stroke="#000" stroke-width="0.15" text-anchor="start" textLength="125.20" lengthAdjust="spacingAndGlyphs">Unacceptable carcinogenic risk</text><text x="17.94" y="266.10" font-size="10.00" fill="#000" stroke="#000" stroke-width="0.15" text-anchor="start" textLength="10.66" lengthAdjust="spacingAndGlyphs">0%</text><text x="13.94" y="216.10" font-size="10.00" fill="#000" stroke="#000" stroke-width="0.15" text-anchor="start" textLength="14.66" lengthAdjust="spacingAndGlyphs">20%</text><text x="13.94" y="166.10" font-size="10.00" fill="#000" stroke="#000" stroke-width="0.15" text-anchor="start" textLength="14.66" lengthAdjust="spacingAndGlyphs">40%</text><text x="13.94" y="116.10" font-size="10.00" fill="#000" stroke="#000" stroke-width="0.15" text-anchor="start" textLength="14.66" lengthAdjust="spacingAndGlyphs">60%</text><text x="13.94" y="66.10" font-size="10.00" fill="#000" stroke="#000" stroke-width="0.15" text-anchor="start" textLength="14.66" lengthAdjust="spacingAndGlyphs">80%</text><text x="9.94" y="16.10" font-size="10.00" fill="#000" stroke="#000" stroke-width="0.15" text-anchor="start" textLength="18.66" lengthAdjust="spacingAndGlyphs">100%</text><text x="26.30" y="277.50" font-size="12.00" fill="#000" stroke="#000" stroke-width="0.15" text-anchor="start" textLength="12.60" lengthAdjust="spacingAndGlyphs">0.0</text><text x="85.95" y="278.60" font-size="12.00" fill="#000" stroke="#000" stroke-width="0.15" text-anchor="start" textLength="28.30" lengthAdjust="spacingAndGlyphs">2.0×10</text><text x="114.45" y="274.20" font-size="8.50" fill="#000" stroke="#000" stroke-width="0.15" text-anchor="start" textLength="5.20" lengthAdjust="spacingAndGlyphs">−4</text><text x="156.20" y="278.60" font-size="12.00" fill="#000" stroke="#000" stroke-width="0.15" text-anchor="start" textLength="28.30" lengthAdjust="spacingAndGlyphs">4.0×10</text><text x="184.70" y="274.20" font-size="8.50" fill="#000" stroke="#000" stroke-width="0.15" text-anchor="start" textLength="5.20" lengthAdjust="spacingAndGlyphs">−4</text><text x="226.45" y="278.60" font-size="12.00" fill="#000" stroke="#000" stroke-width="0.15" text-anchor="start" textLength="28.30" lengthAdjust="spacingAndGlyphs">6.0×10</text><text x="254.95" y="274.20" font-size="8.50" fill="#000" stroke="#000" stroke-width="0.15" text-anchor="start" textLength="5.20" lengthAdjust="spacingAndGlyphs">−4</text><text x="296.70" y="278.60" font-size="12.00" fill="#000" stroke="#000" stroke-width="0.15" text-anchor="start" textLength="28.30" lengthAdjust="spacingAndGlyphs">8.0×10</text><text x="325.20" y="274.20" font-size="8.50" fill="#000" stroke="#000" stroke-width="0.15" text-anchor="start" textLength="5.20" lengthAdjust="spacingAndGlyphs">−4</text><text x="195.20" y="291.90" font-size="13.00" fill="#000" stroke="#000" stroke-width="0.15" text-anchor="start" textLength="22.30" lengthAdjust="spacingAndGlyphs">ILCR</text><text x="259.80" y="43.91" font-size="11.60" fill="#000" stroke="#000" stroke-width="0.15" text-anchor="start" textLength="9.30" lengthAdjust="spacingAndGlyphs">Pb</text><text x="259.80" y="57.58" font-size="11.60" fill="#000" stroke="#000" stroke-width="0.15" text-anchor="start" textLength="9.35" lengthAdjust="spacingAndGlyphs">Cr</text><text x="259.80" y="71.24" font-size="11.60" fill="#000" stroke="#000" stroke-width="0.15" text-anchor="start" textLength="10.30" lengthAdjust="spacingAndGlyphs">Cd</text><text x="259.80" y="84.91" font-size="11.60" fill="#000" stroke="#000" stroke-width="0.15" text-anchor="start" textLength="18.40" lengthAdjust="spacingAndGlyphs">Total</text><text x="165.60" y="140.70" font-size="11.00" fill="#000000" stroke="#000000" stroke-width="0.15" text-anchor="start" textLength="49.20" lengthAdjust="spacingAndGlyphs">Mean = 4.2×10</text><text x="215.80" y="136.80" font-size="8.30" fill="#000000" stroke="#000000" stroke-width="0.15" text-anchor="start" textLength="3.90" lengthAdjust="spacingAndGlyphs">−5</text><text x="165.60" y="154.45" font-size="11.00" fill="#FF1A1A" stroke="#FF1A1A" stroke-width="0.15" text-anchor="start" textLength="49.20" lengthAdjust="spacingAndGlyphs">Mean = 1.9×10</text><text x="215.80" y="150.55" font-size="8.30" fill="#FF1A1A" stroke="#FF1A1A" stroke-width="0.15" text-anchor="start" textLength="3.90" lengthAdjust="spacingAndGlyphs">−4</text><text x="165.60" y="168.20" font-size="11.00" fill="#1A1AFF" stroke="#1A1AFF" stroke-width="0.15" text-anchor="start" textLength="49.20" lengthAdjust="spacingAndGlyphs">Mean = 1.4×10</text><text x="215.80" y="164.30" font-size="8.30" fill="#1A1AFF" stroke="#1A1AFF" stroke-width="0.15" text-anchor="start" textLength="3.90" lengthAdjust="spacingAndGlyphs">−5</text><text x="165.60" y="181.95" font-size="11.00" fill="#33C233" stroke="#33C233" stroke-width="0.15" text-anchor="start" textLength="49.20" lengthAdjust="spacingAndGlyphs">Mean = 2.4×10</text><text x="215.80" y="178.05" font-size="8.30" fill="#33C233" stroke="#33C233" stroke-width="0.15" text-anchor="start" textLength="3.90" lengthAdjust="spacingAndGlyphs">−4</text><text x="296.10" y="253.90" font-size="17.80" fill="#000" stroke="#000" stroke-width="0.15" text-anchor="start" textLength="7.30" lengthAdjust="spacingAndGlyphs">a</text><text transform="translate(8.4,131.8) rotate(-90)" x="0" y="0" font-size="12.2" text-anchor="middle" textLength="113.8" lengthAdjust="spacingAndGlyphs" fill="#000" stroke="#000" stroke-width="0.15">Cumulative probability</text><text x="459.40" y="8.90" font-size="13.80" fill="#000" stroke="#000" stroke-width="0.15" text-anchor="start" textLength="130.70" lengthAdjust="spacingAndGlyphs">Unacceptable carcinogenic risk</text><text x="361.04" y="268.10" font-size="10.00" fill="#000" stroke="#000" stroke-width="0.15" text-anchor="start" textLength="10.66" lengthAdjust="spacingAndGlyphs">0%</text><text x="357.04" y="217.90" font-size="10.00" fill="#000" stroke="#000" stroke-width="0.15" text-anchor="start" textLength="14.66" lengthAdjust="spacingAndGlyphs">20%</text><text x="357.04" y="167.70" font-size="10.00" fill="#000" stroke="#000" stroke-width="0.15" text-anchor="start" textLength="14.66" lengthAdjust="spacingAndGlyphs">40%</text><text x="357.04" y="117.50" font-size="10.00" fill="#000" stroke="#000" stroke-width="0.15" text-anchor="start" textLength="14.66" lengthAdjust="spacingAndGlyphs">60%</text><text x="357.04" y="67.30" font-size="10.00" fill="#000" stroke="#000" stroke-width="0.15" text-anchor="start" textLength="14.66" lengthAdjust="spacingAndGlyphs">80%</text><text x="353.04" y="17.10" font-size="10.00" fill="#000" stroke="#000" stroke-width="0.15" text-anchor="start" textLength="18.66" lengthAdjust="spacingAndGlyphs">100%</text><text x="370.30" y="277.60" font-size="12.00" fill="#000" stroke="#000" stroke-width="0.15" text-anchor="start" textLength="12.00" lengthAdjust="spacingAndGlyphs">0.0</text><text x="419.20" y="279.70" font-size="12.00" fill="#000" stroke="#000" stroke-width="0.15" text-anchor="start" textLength="26.00" lengthAdjust="spacingAndGlyphs">2.0×10</text><text x="445.40" y="275.30" font-size="8.50" fill="#000" stroke="#000" stroke-width="0.15" text-anchor="start" textLength="5.00" lengthAdjust="spacingAndGlyphs">−4</text><text x="477.80" y="279.70" font-size="12.00" fill="#000" stroke="#000" stroke-width="0.15" text-anchor="start" textLength="26.00" lengthAdjust="spacingAndGlyphs">4.0×10</text><text x="504.00" y="275.30" font-size="8.50" fill="#000" stroke="#000" stroke-width="0.15" text-anchor="start" textLength="5.00" lengthAdjust="spacingAndGlyphs">−4</text><text x="536.40" y="279.70" font-size="12.00" fill="#000" stroke="#000" stroke-width="0.15" text-anchor="start" textLength="26.00" lengthAdjust="spacingAndGlyphs">6.0×10</text><text x="562.60" y="275.30" font-size="8.50" fill="#000" stroke="#000" stroke-width="0.15" text-anchor="start" textLength="5.00" lengthAdjust="spacingAndGlyphs">−4</text><text x="595.00" y="279.70" font-size="12.00" fill="#000" stroke="#000" stroke-width="0.15" text-anchor="start" textLength="26.00" lengthAdjust="spacingAndGlyphs">8.0×10</text><text x="621.20" y="275.30" font-size="8.50" fill="#000" stroke="#000" stroke-width="0.15" text-anchor="start" textLength="5.00" lengthAdjust="spacingAndGlyphs">−4</text><text x="653.60" y="279.70" font-size="12.00" fill="#000" stroke="#000" stroke-width="0.15" text-anchor="start" textLength="26.00" lengthAdjust="spacingAndGlyphs">1.0×10</text><text x="679.80" y="275.30" font-size="8.50" fill="#000" stroke="#000" stroke-width="0.15" text-anchor="start" textLength="5.00" lengthAdjust="spacingAndGlyphs">−3</text><text x="509.40" y="291.90" font-size="13.00" fill="#000" stroke="#000" stroke-width="0.15" text-anchor="start" textLength="22.50" lengthAdjust="spacingAndGlyphs">ILCR</text><text x="613.10" y="44.91" font-size="12.00" fill="#000" stroke="#000" stroke-width="0.15" text-anchor="start" textLength="22.93" lengthAdjust="spacingAndGlyphs">Beans</text><text x="613.10" y="58.58" font-size="12.00" fill="#000" stroke="#000" stroke-width="0.15" text-anchor="start" textLength="17.85" lengthAdjust="spacingAndGlyphs">Eggs</text><text x="613.10" y="72.24" font-size="12.00" fill="#000" stroke="#000" stroke-width="0.15" text-anchor="start" textLength="41.78" lengthAdjust="spacingAndGlyphs">Vegetables</text><text x="613.10" y="85.91" font-size="12.00" fill="#000" stroke="#000" stroke-width="0.15" text-anchor="start" textLength="20.35" lengthAdjust="spacingAndGlyphs">Meat</text><text x="613.10" y="99.58" font-size="12.00" fill="#000" stroke="#000" stroke-width="0.15" text-anchor="start" textLength="28.02" lengthAdjust="spacingAndGlyphs">Cereals</text><text x="613.10" y="113.24" font-size="12.00" fill="#000" stroke="#000" stroke-width="0.15" text-anchor="start" textLength="48.12" lengthAdjust="spacingAndGlyphs">Aquatic food</text><text x="613.10" y="126.91" font-size="12.00" fill="#000" stroke="#000" stroke-width="0.15" text-anchor="start" textLength="19.35" lengthAdjust="spacingAndGlyphs">Total</text><text x="506.80" y="141.10" font-size="11.00" fill="#000000" stroke="#000000" stroke-width="0.15" text-anchor="start" textLength="51.60" lengthAdjust="spacingAndGlyphs">Mean = 4.4×10</text><text x="559.00" y="137.20" font-size="8.30" fill="#000000" stroke="#000000" stroke-width="0.15" text-anchor="start" textLength="4.80" lengthAdjust="spacingAndGlyphs">−6</text><text x="506.80" y="154.95" font-size="11.00" fill="#FF1A1A" stroke="#FF1A1A" stroke-width="0.15" text-anchor="start" textLength="51.60" lengthAdjust="spacingAndGlyphs">Mean = 1.5×10</text><text x="559.00" y="151.05" font-size="8.30" fill="#FF1A1A" stroke="#FF1A1A" stroke-width="0.15" text-anchor="start" textLength="4.80" lengthAdjust="spacingAndGlyphs">−5</text><text x="506.80" y="168.80" font-size="11.00" fill="#1A1AFF" stroke="#1A1AFF" stroke-width="0.15" text-anchor="start" textLength="51.60" lengthAdjust="spacingAndGlyphs">Mean = 3.0×10</text><text x="559.00" y="164.90" font-size="8.30" fill="#1A1AFF" stroke="#1A1AFF" stroke-width="0.15" text-anchor="start" textLength="4.80" lengthAdjust="spacingAndGlyphs">−5</text><text x="506.80" y="182.65" font-size="11.00" fill="#33C233" stroke="#33C233" stroke-width="0.15" text-anchor="start" textLength="51.60" lengthAdjust="spacingAndGlyphs">Mean = 3.4×10</text><text x="559.00" y="178.75" font-size="8.30" fill="#33C233" stroke="#33C233" stroke-width="0.15" text-anchor="start" textLength="4.80" lengthAdjust="spacingAndGlyphs">−5</text><text x="506.80" y="196.50" font-size="11.00" fill="#8000FF" stroke="#8000FF" stroke-width="0.15" text-anchor="start" textLength="51.60" lengthAdjust="spacingAndGlyphs">Mean = 5.4×10</text><text x="559.00" y="192.60" font-size="8.30" fill="#8000FF" stroke="#8000FF" stroke-width="0.15" text-anchor="start" textLength="4.80" lengthAdjust="spacingAndGlyphs">−5</text><text x="506.80" y="210.35" font-size="11.00" fill="#FF8000" stroke="#FF8000" stroke-width="0.15" text-anchor="start" textLength="51.60" lengthAdjust="spacingAndGlyphs">Mean = 1.1×10</text><text x="559.00" y="206.45" font-size="8.30" fill="#FF8000" stroke="#FF8000" stroke-width="0.15" text-anchor="start" textLength="4.80" lengthAdjust="spacingAndGlyphs">−4</text><text x="506.80" y="224.20" font-size="11.00" fill="#10E8C0" stroke="#10E8C0" stroke-width="0.15" text-anchor="start" textLength="51.60" lengthAdjust="spacingAndGlyphs">Mean = 2.4×10</text><text x="559.00" y="220.30" font-size="8.30" fill="#10E8C0" stroke="#10E8C0" stroke-width="0.15" text-anchor="start" textLength="4.80" lengthAdjust="spacingAndGlyphs">−4</text><text x="651.30" y="255.30" font-size="17.30" fill="#000" stroke="#000" stroke-width="0.15" text-anchor="start" textLength="8.20" lengthAdjust="spacingAndGlyphs">b</text><text transform="translate(351.2,132.25) rotate(-90)" x="0" y="0" font-size="13.3" text-anchor="middle" textLength="123.9" lengthAdjust="spacingAndGlyphs" fill="#000" stroke="#000" stroke-width="0.15">Cumulative probability</text></svg>
</body></html>
